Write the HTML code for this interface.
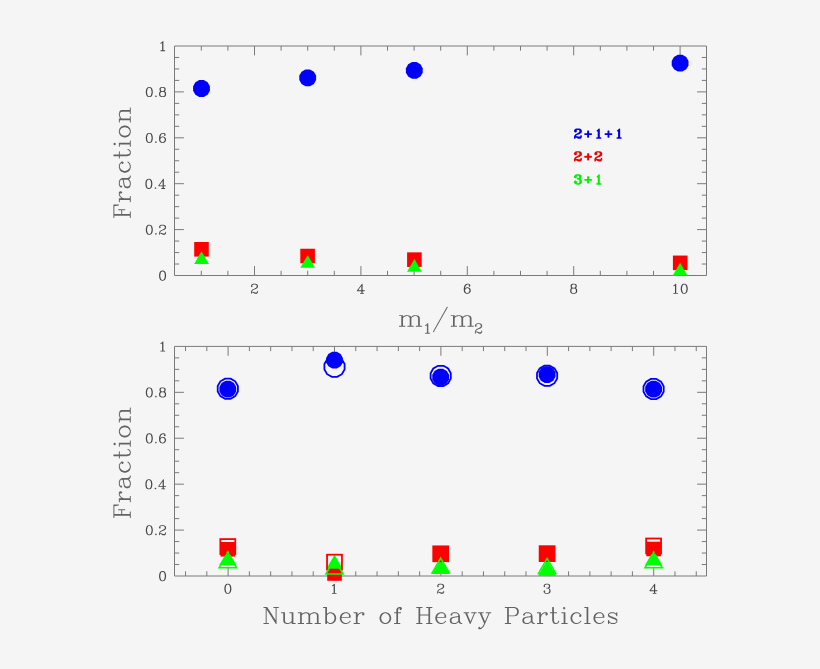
<!DOCTYPE html>
<html><head><meta charset="utf-8"><title>Fraction plots</title>
<style>
html,body{margin:0;padding:0;background:#f5f5f5;font-family:"Liberation Sans",sans-serif;}
svg{display:block}
</style></head>
<body>
<svg width="820" height="669" viewBox="0 0 820 669">
<rect width="820" height="669" fill="#f5f5f5"/>
<defs><filter id="soft" x="0" y="0" width="100%" height="100%" filterUnits="userSpaceOnUse"><feGaussianBlur stdDeviation="0.38"/></filter></defs>
<g filter="url(#soft)"><rect width="820" height="669" fill="#f5f5f5"/>
<path d="M174.5,46.0H706.5V275.5H174.5ZM201.30,275.5v-4.7M201.30,46.0v4.7M227.90,275.5v-4.7M227.90,46.0v4.7M254.50,275.5v-9.4M254.50,46.0v9.4M281.10,275.5v-4.7M281.10,46.0v4.7M307.70,275.5v-4.7M307.70,46.0v4.7M334.30,275.5v-4.7M334.30,46.0v4.7M360.90,275.5v-9.4M360.90,46.0v9.4M387.50,275.5v-4.7M387.50,46.0v4.7M414.10,275.5v-4.7M414.10,46.0v4.7M440.70,275.5v-4.7M440.70,46.0v4.7M467.30,275.5v-9.4M467.30,46.0v9.4M493.90,275.5v-4.7M493.90,46.0v4.7M520.50,275.5v-4.7M520.50,46.0v4.7M547.10,275.5v-4.7M547.10,46.0v4.7M573.70,275.5v-9.4M573.70,46.0v9.4M600.30,275.5v-4.7M600.30,46.0v4.7M626.90,275.5v-4.7M626.90,46.0v4.7M653.50,275.5v-4.7M653.50,46.0v4.7M680.10,275.5v-9.4M680.10,46.0v9.4M174.5,264.02h4.7M706.5,264.02h-4.7M174.5,252.55h4.7M706.5,252.55h-4.7M174.5,241.07h4.7M706.5,241.07h-4.7M174.5,229.60h9.4M706.5,229.60h-9.4M174.5,218.12h4.7M706.5,218.12h-4.7M174.5,206.65h4.7M706.5,206.65h-4.7M174.5,195.18h4.7M706.5,195.18h-4.7M174.5,183.70h9.4M706.5,183.70h-9.4M174.5,172.22h4.7M706.5,172.22h-4.7M174.5,160.75h4.7M706.5,160.75h-4.7M174.5,149.27h4.7M706.5,149.27h-4.7M174.5,137.80h9.4M706.5,137.80h-9.4M174.5,126.32h4.7M706.5,126.32h-4.7M174.5,114.85h4.7M706.5,114.85h-4.7M174.5,103.38h4.7M706.5,103.38h-4.7M174.5,91.90h9.4M706.5,91.90h-9.4M174.5,80.42h4.7M706.5,80.42h-4.7M174.5,68.95h4.7M706.5,68.95h-4.7M174.5,57.47h4.7M706.5,57.47h-4.7" fill="none" stroke="#7a7a7a" stroke-width="1.0" stroke-linecap="butt" stroke-linejoin="miter"/>
<polygon points="203.75,80.10 207.65,82.35 209.90,86.25 209.90,90.75 207.65,94.65 203.75,96.90 199.25,96.90 195.35,94.65 193.10,90.75 193.10,86.25 195.35,82.35 199.25,80.10" fill="#0000ff"/>
<polygon points="309.95,69.40 313.85,71.65 316.10,75.55 316.10,80.05 313.85,83.95 309.95,86.20 305.45,86.20 301.55,83.95 299.30,80.05 299.30,75.55 301.55,71.65 305.45,69.40" fill="#0000ff"/>
<polygon points="416.55,62.00 420.45,64.25 422.70,68.15 422.70,72.65 420.45,76.55 416.55,78.80 412.05,78.80 408.15,76.55 405.90,72.65 405.90,68.15 408.15,64.25 412.05,62.00" fill="#0000ff"/>
<polygon points="682.35,54.80 686.25,57.05 688.50,60.95 688.50,65.45 686.25,69.35 682.35,71.60 677.85,71.60 673.95,69.35 671.70,65.45 671.70,60.95 673.95,57.05 677.85,54.80" fill="#0000ff"/>
<rect x="194.20" y="242.00" width="14.6" height="14.6" fill="#ff0000"/>
<rect x="300.30" y="248.75" width="14.6" height="14.6" fill="#ff0000"/>
<rect x="407.10" y="252.35" width="14.6" height="14.6" fill="#ff0000"/>
<rect x="672.90" y="255.55" width="14.6" height="14.6" fill="#ff0000"/>
<polygon points="201.50,251.15 208.85,263.90 194.15,263.90" fill="#00ff00"/>
<polygon points="307.70,255.05 315.05,267.80 300.35,267.80" fill="#00ff00"/>
<polygon points="414.40,258.95 421.75,271.70 407.05,271.70" fill="#00ff00"/>
<polygon points="680.10,262.75 687.45,275.50 672.75,275.50" fill="#00ff00"/>
<path d="M174.5,346.4H706.5V576.0H174.5ZM185.54,576.0v-4.7M185.54,346.4v4.7M206.82,576.0v-4.7M206.82,346.4v4.7M228.10,576.0v-9.4M228.10,346.4v9.4M249.38,576.0v-4.7M249.38,346.4v4.7M270.66,576.0v-4.7M270.66,346.4v4.7M291.94,576.0v-4.7M291.94,346.4v4.7M313.22,576.0v-4.7M313.22,346.4v4.7M334.50,576.0v-9.4M334.50,346.4v9.4M355.78,576.0v-4.7M355.78,346.4v4.7M377.06,576.0v-4.7M377.06,346.4v4.7M398.34,576.0v-4.7M398.34,346.4v4.7M419.62,576.0v-4.7M419.62,346.4v4.7M440.90,576.0v-9.4M440.90,346.4v9.4M462.18,576.0v-4.7M462.18,346.4v4.7M483.46,576.0v-4.7M483.46,346.4v4.7M504.74,576.0v-4.7M504.74,346.4v4.7M526.02,576.0v-4.7M526.02,346.4v4.7M547.30,576.0v-9.4M547.30,346.4v9.4M568.58,576.0v-4.7M568.58,346.4v4.7M589.86,576.0v-4.7M589.86,346.4v4.7M611.14,576.0v-4.7M611.14,346.4v4.7M632.42,576.0v-4.7M632.42,346.4v4.7M653.70,576.0v-9.4M653.70,346.4v9.4M674.98,576.0v-4.7M674.98,346.4v4.7M696.26,576.0v-4.7M696.26,346.4v4.7M174.5,564.52h4.7M706.5,564.52h-4.7M174.5,553.04h4.7M706.5,553.04h-4.7M174.5,541.56h4.7M706.5,541.56h-4.7M174.5,530.08h9.4M706.5,530.08h-9.4M174.5,518.60h4.7M706.5,518.60h-4.7M174.5,507.12h4.7M706.5,507.12h-4.7M174.5,495.64h4.7M706.5,495.64h-4.7M174.5,484.16h9.4M706.5,484.16h-9.4M174.5,472.68h4.7M706.5,472.68h-4.7M174.5,461.20h4.7M706.5,461.20h-4.7M174.5,449.72h4.7M706.5,449.72h-4.7M174.5,438.24h9.4M706.5,438.24h-9.4M174.5,426.76h4.7M706.5,426.76h-4.7M174.5,415.28h4.7M706.5,415.28h-4.7M174.5,403.80h4.7M706.5,403.80h-4.7M174.5,392.32h9.4M706.5,392.32h-9.4M174.5,380.84h4.7M706.5,380.84h-4.7M174.5,369.36h4.7M706.5,369.36h-4.7M174.5,357.88h4.7M706.5,357.88h-4.7" fill="none" stroke="#7a7a7a" stroke-width="1.0" stroke-linecap="butt" stroke-linejoin="miter"/>
<polygon points="230.05,380.80 233.95,383.05 236.20,386.95 236.20,391.45 233.95,395.35 230.05,397.60 225.55,397.60 221.65,395.35 219.40,391.45 219.40,386.95 221.65,383.05 225.55,380.80" fill="#0000ff"/>
<polygon points="336.75,351.80 340.65,354.05 342.90,357.95 342.90,362.45 340.65,366.35 336.75,368.60 332.25,368.60 328.35,366.35 326.10,362.45 326.10,357.95 328.35,354.05 332.25,351.80" fill="#0000ff"/>
<polygon points="442.95,368.70 446.85,370.95 449.10,374.85 449.10,379.35 446.85,383.25 442.95,385.50 438.45,385.50 434.55,383.25 432.30,379.35 432.30,374.85 434.55,370.95 438.45,368.70" fill="#0000ff"/>
<polygon points="549.35,366.20 553.25,368.45 555.50,372.35 555.50,376.85 553.25,380.75 549.35,383.00 544.85,383.00 540.95,380.75 538.70,376.85 538.70,372.35 540.95,368.45 544.85,366.20" fill="#0000ff"/>
<polygon points="655.85,380.70 659.75,382.95 662.00,386.85 662.00,391.35 659.75,395.25 655.85,397.50 651.35,397.50 647.45,395.25 645.20,391.35 645.20,386.85 647.45,382.95 651.35,380.70" fill="#0000ff"/>
<rect x="220.50" y="542.00" width="14.6" height="14.6" fill="#ff0000"/>
<rect x="327.20" y="566.20" width="14.6" height="14.6" fill="#ff0000"/>
<rect x="433.40" y="546.50" width="14.6" height="14.6" fill="#ff0000"/>
<rect x="539.80" y="546.40" width="14.6" height="14.6" fill="#ff0000"/>
<rect x="646.30" y="541.70" width="14.6" height="14.6" fill="#ff0000"/>
<polygon points="227.80,550.20 236.46,565.20 219.14,565.20" fill="#00ff00"/>
<polygon points="334.50,554.80 343.16,569.80 325.84,569.80" fill="#00ff00"/>
<polygon points="440.70,559.00 449.36,574.00 432.04,574.00" fill="#00ff00"/>
<polygon points="547.10,559.80 556.10,576.00 538.10,576.00" fill="#00ff00"/>
<polygon points="653.60,550.20 662.26,565.20 644.94,565.20" fill="#00ff00"/>
<polygon points="230.50,378.61 235.19,381.31 237.89,386.00 237.89,391.40 235.19,396.09 230.50,398.79 225.10,398.79 220.41,396.09 217.71,391.40 217.71,386.00 220.41,381.31 225.10,378.61" fill="none" stroke="#0000ff" stroke-width="1.8"/>
<polygon points="337.20,356.71 341.89,359.41 344.59,364.10 344.59,369.50 341.89,374.19 337.20,376.89 331.80,376.89 327.11,374.19 324.41,369.50 324.41,364.10 327.11,359.41 331.80,356.71" fill="none" stroke="#0000ff" stroke-width="1.8"/>
<polygon points="443.40,365.81 448.09,368.51 450.79,373.20 450.79,378.60 448.09,383.29 443.40,385.99 438.00,385.99 433.31,383.29 430.61,378.60 430.61,373.20 433.31,368.51 438.00,365.81" fill="none" stroke="#0000ff" stroke-width="1.8"/>
<polygon points="549.80,365.71 554.49,368.41 557.19,373.10 557.19,378.50 554.49,383.19 549.80,385.89 544.40,385.89 539.71,383.19 537.01,378.50 537.01,373.10 539.71,368.41 544.40,365.71" fill="none" stroke="#0000ff" stroke-width="1.8"/>
<polygon points="656.30,378.91 660.99,381.61 663.69,386.30 663.69,391.70 660.99,396.39 656.30,399.09 650.90,399.09 646.21,396.39 643.51,391.70 643.51,386.30 646.21,381.61 650.90,378.91" fill="none" stroke="#0000ff" stroke-width="1.8"/>
<rect x="220.35" y="539.10" width="14.9" height="14.9" fill="none" stroke="#ff0000" stroke-width="1.8"/>
<rect x="327.05" y="554.70" width="14.9" height="14.9" fill="none" stroke="#ff0000" stroke-width="1.8"/>
<rect x="433.25" y="546.35" width="14.9" height="14.9" fill="none" stroke="#ff0000" stroke-width="1.8"/>
<rect x="539.65" y="546.20" width="14.9" height="14.9" fill="none" stroke="#ff0000" stroke-width="1.8"/>
<rect x="646.15" y="538.50" width="14.9" height="14.9" fill="none" stroke="#ff0000" stroke-width="1.8"/>
<polygon points="227.80,552.70 236.46,567.70 219.14,567.70" fill="none" stroke="#00ff00" stroke-width="1.5" stroke-linejoin="miter"/>
<polygon points="334.50,559.10 343.16,574.10 325.84,574.10" fill="none" stroke="#00ff00" stroke-width="1.5" stroke-linejoin="miter"/>
<polygon points="440.70,558.00 449.36,573.00 432.04,573.00" fill="none" stroke="#00ff00" stroke-width="1.5" stroke-linejoin="miter"/>
<polygon points="547.10,558.45 555.76,573.45 538.44,573.45" fill="none" stroke="#00ff00" stroke-width="1.5" stroke-linejoin="miter"/>
<polygon points="653.60,552.85 662.26,567.85 644.94,567.85" fill="none" stroke="#00ff00" stroke-width="1.5" stroke-linejoin="miter"/>
<path transform="translate(166.10,275.65) translate(-7.96,4.64)" d="M3.98,-9.72 3.92,-9.67 3.76,-9.67 3.59,-9.56 3.48,-9.56 2.43,-9.17 2.27,-9.01 1.38,-7.68 1.33,-7.24 1.27,-7.18 1.27,-6.96 1.22,-6.91 1.22,-6.69 1.16,-6.63 1.16,-6.41 1.10,-6.35 1.10,-6.13 1.05,-6.08 1.05,-5.86 0.99,-5.80 0.99,-5.58 0.94,-5.53 0.94,-3.76 0.99,-3.70 0.99,-3.48 1.05,-3.43 1.05,-3.20 1.10,-3.15 1.10,-2.93 1.16,-2.87 1.16,-2.65 1.22,-2.60 1.22,-2.38 1.27,-2.32 1.27,-2.10 1.33,-2.04 1.38,-1.60 2.27,-0.28 2.43,-0.11 2.65,0.00 2.76,0.00 3.81,0.39 5.03,0.39 5.08,0.33 6.35,-0.06 6.57,-0.28 7.46,-1.60 7.51,-2.04 7.57,-2.10 7.57,-2.32 7.62,-2.38 7.62,-2.60 7.68,-2.65 7.68,-2.87 7.74,-2.93 7.74,-3.15 7.79,-3.20 7.79,-3.43 7.85,-3.48 7.85,-3.70 7.90,-3.76 7.90,-5.53 7.85,-5.58 7.85,-5.80 7.79,-5.86 7.79,-6.08 7.74,-6.13 7.74,-6.35 7.68,-6.41 7.68,-6.63 7.62,-6.69 7.62,-6.91 7.57,-6.96 7.57,-7.18 7.51,-7.24 7.46,-7.68 6.57,-9.01 6.35,-9.23 6.24,-9.23 5.03,-9.67 4.03,-9.67ZM4.09,-8.90 4.75,-8.90 5.53,-8.51 5.86,-8.18 6.30,-7.24 6.30,-7.02 6.35,-6.96 6.35,-6.74 6.41,-6.69 6.41,-6.46 6.46,-6.41 6.46,-6.19 6.52,-6.13 6.52,-5.91 6.57,-5.86 6.57,-5.64 6.63,-5.58 6.63,-5.30 6.69,-5.25 6.69,-4.03 6.63,-3.98 6.63,-3.70 6.57,-3.65 6.57,-3.43 6.52,-3.37 6.52,-3.15 6.46,-3.09 6.46,-2.87 6.41,-2.82 6.41,-2.60 6.35,-2.54 6.35,-2.32 6.30,-2.27 6.24,-1.88 5.86,-1.10 5.53,-0.77 4.75,-0.39 4.09,-0.39 3.31,-0.77 2.98,-1.10 2.54,-2.04 2.54,-2.27 2.49,-2.32 2.49,-2.54 2.43,-2.60 2.43,-2.82 2.38,-2.87 2.38,-3.09 2.32,-3.15 2.32,-3.37 2.27,-3.43 2.27,-3.65 2.21,-3.70 2.21,-3.98 2.15,-4.03 2.15,-5.25 2.21,-5.30 2.21,-5.58 2.27,-5.64 2.27,-5.86 2.32,-5.91 2.32,-6.13 2.38,-6.19 2.38,-6.41 2.43,-6.46 2.43,-6.69 2.49,-6.74 2.49,-6.96 2.54,-7.02 2.60,-7.40 2.98,-8.18 3.31,-8.51Z" fill="#444444" fill-rule="evenodd"/>
<path transform="translate(166.10,229.75) translate(-21.22,4.64)" d="M10.88,-1.27 10.22,-0.61 10.22,-0.28 10.83,0.33 10.94,0.39 11.16,0.39 11.27,0.33 11.88,-0.28 11.88,-0.61 11.22,-1.27ZM15.47,-9.28 15.25,-9.17 14.64,-8.56 14.20,-7.68 14.20,-6.91 14.81,-6.30 14.92,-6.24 15.14,-6.24 15.25,-6.30 15.86,-6.91 15.86,-7.24 15.25,-7.85 15.25,-7.96 15.36,-8.18 15.69,-8.51 15.80,-8.51 16.85,-8.90 18.45,-8.90 19.23,-8.51 19.56,-8.18 19.95,-7.40 19.95,-6.74 19.61,-6.08 19.45,-5.91 18.45,-5.25 15.75,-3.92 14.64,-2.82 14.64,-2.71 14.20,-1.49 14.20,0.17 14.48,0.39 14.70,0.39 14.81,0.33 14.97,0.17 14.97,-0.72 15.19,-0.94 15.80,-0.94 18.01,0.39 20.00,0.39 20.11,0.33 20.72,-0.28 21.16,-1.16 21.16,-2.38 20.88,-2.60 20.66,-2.60 20.39,-2.38 20.39,-1.49 20.11,-1.22 19.34,-0.83 18.23,-0.83 18.18,-0.88 17.90,-0.94 17.74,-1.05 17.62,-1.05 17.46,-1.16 17.35,-1.16 17.18,-1.27 17.07,-1.27 16.91,-1.38 16.80,-1.38 16.63,-1.49 16.52,-1.49 16.35,-1.60 16.24,-1.60 16.08,-1.71 15.19,-1.71 15.14,-1.77 15.19,-1.82 15.36,-2.43 16.13,-3.20 16.91,-3.59 17.02,-3.59 17.13,-3.70 17.24,-3.70 17.40,-3.81 17.51,-3.81 17.68,-3.92 17.79,-3.92 17.96,-4.03 18.07,-4.03 18.23,-4.14 18.34,-4.14 18.51,-4.25 18.62,-4.25 18.79,-4.36 19.17,-4.48 20.50,-5.36 20.72,-5.58 21.16,-6.46 21.16,-7.68 20.72,-8.56 20.06,-9.23 19.95,-9.23 18.73,-9.67 16.63,-9.67 16.57,-9.61ZM3.98,-9.72 3.92,-9.67 3.76,-9.67 3.59,-9.56 3.48,-9.56 2.43,-9.17 2.27,-9.01 1.38,-7.68 1.33,-7.24 1.27,-7.18 1.27,-6.96 1.22,-6.91 1.22,-6.69 1.16,-6.63 1.16,-6.41 1.10,-6.35 1.10,-6.13 1.05,-6.08 1.05,-5.86 0.99,-5.80 0.99,-5.58 0.94,-5.53 0.94,-3.76 0.99,-3.70 0.99,-3.48 1.05,-3.43 1.05,-3.20 1.10,-3.15 1.10,-2.93 1.16,-2.87 1.16,-2.65 1.22,-2.60 1.22,-2.38 1.27,-2.32 1.27,-2.10 1.33,-2.04 1.38,-1.60 2.27,-0.28 2.43,-0.11 2.65,0.00 2.76,0.00 3.81,0.39 5.03,0.39 5.08,0.33 6.35,-0.06 6.57,-0.28 7.46,-1.60 7.51,-2.04 7.57,-2.10 7.57,-2.32 7.62,-2.38 7.62,-2.60 7.68,-2.65 7.68,-2.87 7.74,-2.93 7.74,-3.15 7.79,-3.20 7.79,-3.43 7.85,-3.48 7.85,-3.70 7.90,-3.76 7.90,-5.53 7.85,-5.58 7.85,-5.80 7.79,-5.86 7.79,-6.08 7.74,-6.13 7.74,-6.35 7.68,-6.41 7.68,-6.63 7.62,-6.69 7.62,-6.91 7.57,-6.96 7.57,-7.18 7.51,-7.24 7.46,-7.68 6.57,-9.01 6.35,-9.23 6.24,-9.23 5.03,-9.67 4.03,-9.67ZM4.09,-8.90 4.75,-8.90 5.53,-8.51 5.86,-8.18 6.30,-7.24 6.30,-7.02 6.35,-6.96 6.35,-6.74 6.41,-6.69 6.41,-6.46 6.46,-6.41 6.46,-6.19 6.52,-6.13 6.52,-5.91 6.57,-5.86 6.57,-5.64 6.63,-5.58 6.63,-5.30 6.69,-5.25 6.69,-4.03 6.63,-3.98 6.63,-3.70 6.57,-3.65 6.57,-3.43 6.52,-3.37 6.52,-3.15 6.46,-3.09 6.46,-2.87 6.41,-2.82 6.41,-2.60 6.35,-2.54 6.35,-2.32 6.30,-2.27 6.24,-1.88 5.86,-1.10 5.53,-0.77 4.75,-0.39 4.09,-0.39 3.31,-0.77 2.98,-1.10 2.54,-2.04 2.54,-2.27 2.49,-2.32 2.49,-2.54 2.43,-2.60 2.43,-2.82 2.38,-2.87 2.38,-3.09 2.32,-3.15 2.32,-3.37 2.27,-3.43 2.27,-3.65 2.21,-3.70 2.21,-3.98 2.15,-4.03 2.15,-5.25 2.21,-5.30 2.21,-5.58 2.27,-5.64 2.27,-5.86 2.32,-5.91 2.32,-6.13 2.38,-6.19 2.38,-6.41 2.43,-6.46 2.43,-6.69 2.49,-6.74 2.49,-6.96 2.54,-7.02 2.60,-7.40 2.98,-8.18 3.31,-8.51Z" fill="#444444" fill-rule="evenodd"/>
<path transform="translate(166.10,183.85) translate(-21.66,4.64)" d="M10.88,-1.27 10.22,-0.61 10.22,-0.28 10.83,0.33 10.94,0.39 11.16,0.39 11.27,0.33 11.88,-0.28 11.88,-0.61 11.22,-1.27ZM19.17,-9.67 18.84,-9.67 18.62,-9.45 13.76,-2.82 13.76,-2.49 14.03,-2.27 18.12,-2.27 18.18,-2.21 18.18,-0.44 18.12,-0.39 17.13,-0.39 17.02,-0.33 16.85,-0.17 16.85,0.17 17.13,0.39 20.44,0.39 20.55,0.33 20.72,0.17 20.72,-0.17 20.55,-0.33 20.44,-0.39 19.45,-0.39 19.39,-0.44 19.39,-2.21 19.45,-2.27 21.33,-2.27 21.60,-2.49 21.60,-2.82 21.33,-3.04 19.45,-3.04 19.39,-3.09 19.39,-9.45ZM18.12,-7.40 18.18,-7.35 18.18,-3.09 18.12,-3.04 15.03,-3.04 14.97,-3.09 15.14,-3.37 15.64,-3.98 15.75,-4.20 16.24,-4.81 16.35,-5.03 16.85,-5.64 16.96,-5.86ZM3.98,-9.72 3.92,-9.67 3.76,-9.67 3.59,-9.56 3.48,-9.56 2.43,-9.17 2.27,-9.01 1.38,-7.68 1.33,-7.24 1.27,-7.18 1.27,-6.96 1.22,-6.91 1.22,-6.69 1.16,-6.63 1.16,-6.41 1.10,-6.35 1.10,-6.13 1.05,-6.08 1.05,-5.86 0.99,-5.80 0.99,-5.58 0.94,-5.53 0.94,-3.76 0.99,-3.70 0.99,-3.48 1.05,-3.43 1.05,-3.20 1.10,-3.15 1.10,-2.93 1.16,-2.87 1.16,-2.65 1.22,-2.60 1.22,-2.38 1.27,-2.32 1.27,-2.10 1.33,-2.04 1.38,-1.60 2.27,-0.28 2.43,-0.11 2.65,0.00 2.76,0.00 3.81,0.39 5.03,0.39 5.08,0.33 6.35,-0.06 6.57,-0.28 7.46,-1.60 7.51,-2.04 7.57,-2.10 7.57,-2.32 7.62,-2.38 7.62,-2.60 7.68,-2.65 7.68,-2.87 7.74,-2.93 7.74,-3.15 7.79,-3.20 7.79,-3.43 7.85,-3.48 7.85,-3.70 7.90,-3.76 7.90,-5.53 7.85,-5.58 7.85,-5.80 7.79,-5.86 7.79,-6.08 7.74,-6.13 7.74,-6.35 7.68,-6.41 7.68,-6.63 7.62,-6.69 7.62,-6.91 7.57,-6.96 7.57,-7.18 7.51,-7.24 7.46,-7.68 6.57,-9.01 6.35,-9.23 6.24,-9.23 5.03,-9.67 4.03,-9.67ZM4.09,-8.90 4.75,-8.90 5.53,-8.51 5.86,-8.18 6.30,-7.24 6.30,-7.02 6.35,-6.96 6.35,-6.74 6.41,-6.69 6.41,-6.46 6.46,-6.41 6.46,-6.19 6.52,-6.13 6.52,-5.91 6.57,-5.86 6.57,-5.64 6.63,-5.58 6.63,-5.30 6.69,-5.25 6.69,-4.03 6.63,-3.98 6.63,-3.70 6.57,-3.65 6.57,-3.43 6.52,-3.37 6.52,-3.15 6.46,-3.09 6.46,-2.87 6.41,-2.82 6.41,-2.60 6.35,-2.54 6.35,-2.32 6.30,-2.27 6.24,-1.88 5.86,-1.10 5.53,-0.77 4.75,-0.39 4.09,-0.39 3.31,-0.77 2.98,-1.10 2.54,-2.04 2.54,-2.27 2.49,-2.32 2.49,-2.54 2.43,-2.60 2.43,-2.82 2.38,-2.87 2.38,-3.09 2.32,-3.15 2.32,-3.37 2.27,-3.43 2.27,-3.65 2.21,-3.70 2.21,-3.98 2.15,-4.03 2.15,-5.25 2.21,-5.30 2.21,-5.58 2.27,-5.64 2.27,-5.86 2.32,-5.91 2.32,-6.13 2.38,-6.19 2.38,-6.41 2.43,-6.46 2.43,-6.69 2.49,-6.74 2.49,-6.96 2.54,-7.02 2.60,-7.40 2.98,-8.18 3.31,-8.51Z" fill="#444444" fill-rule="evenodd"/>
<path transform="translate(166.10,137.95) translate(-21.22,4.64)" d="M10.88,-1.27 10.22,-0.61 10.22,-0.28 10.83,0.33 10.94,0.39 11.16,0.39 11.27,0.33 11.88,-0.28 11.88,-0.61 11.22,-1.27ZM19.17,-9.67 17.51,-9.67 17.46,-9.61 17.35,-9.61 16.13,-9.17 15.08,-8.12 14.64,-7.24 14.59,-6.85 14.53,-6.80 14.53,-6.63 14.48,-6.57 14.48,-6.41 14.42,-6.35 14.42,-6.19 14.37,-6.13 14.37,-5.97 14.31,-5.91 14.31,-5.75 14.20,-5.47 14.20,-2.49 14.25,-2.43 14.64,-1.16 15.69,-0.11 15.91,0.00 17.02,0.33 17.07,0.39 18.29,0.39 18.34,0.33 19.61,-0.06 20.72,-1.16 20.72,-1.27 21.16,-2.49 21.16,-3.26 21.11,-3.31 20.72,-4.59 19.61,-5.69 19.50,-5.69 18.29,-6.13 17.51,-6.13 17.46,-6.08 17.35,-6.08 16.13,-5.64 15.47,-4.97 15.41,-5.03 15.47,-5.53 15.53,-5.58 15.53,-5.75 15.58,-5.80 15.75,-6.63 15.80,-6.69 15.86,-6.96 16.24,-7.74 17.02,-8.51 17.79,-8.90 18.90,-8.90 19.61,-8.51 19.67,-8.29 19.06,-7.68 19.06,-7.35 19.67,-6.74 19.78,-6.69 20.00,-6.69 20.11,-6.74 20.72,-7.35 20.72,-8.12 20.28,-9.01 20.06,-9.23ZM17.74,-5.36 18.01,-5.36 18.79,-4.97 19.56,-4.20 19.56,-4.09 19.95,-3.04 19.95,-2.71 19.89,-2.65 19.56,-1.55 18.79,-0.77 18.01,-0.39 17.35,-0.39 16.57,-0.77 15.80,-1.55 15.80,-1.66 15.41,-2.71 15.41,-3.04 15.47,-3.09 15.80,-4.20 16.57,-4.97 16.69,-4.97ZM3.98,-9.72 3.92,-9.67 3.76,-9.67 3.59,-9.56 3.48,-9.56 2.43,-9.17 2.27,-9.01 1.38,-7.68 1.33,-7.24 1.27,-7.18 1.27,-6.96 1.22,-6.91 1.22,-6.69 1.16,-6.63 1.16,-6.41 1.10,-6.35 1.10,-6.13 1.05,-6.08 1.05,-5.86 0.99,-5.80 0.99,-5.58 0.94,-5.53 0.94,-3.76 0.99,-3.70 0.99,-3.48 1.05,-3.43 1.05,-3.20 1.10,-3.15 1.10,-2.93 1.16,-2.87 1.16,-2.65 1.22,-2.60 1.22,-2.38 1.27,-2.32 1.27,-2.10 1.33,-2.04 1.38,-1.60 2.27,-0.28 2.43,-0.11 2.65,0.00 2.76,0.00 3.81,0.39 5.03,0.39 5.08,0.33 6.35,-0.06 6.57,-0.28 7.46,-1.60 7.51,-2.04 7.57,-2.10 7.57,-2.32 7.62,-2.38 7.62,-2.60 7.68,-2.65 7.68,-2.87 7.74,-2.93 7.74,-3.15 7.79,-3.20 7.79,-3.43 7.85,-3.48 7.85,-3.70 7.90,-3.76 7.90,-5.53 7.85,-5.58 7.85,-5.80 7.79,-5.86 7.79,-6.08 7.74,-6.13 7.74,-6.35 7.68,-6.41 7.68,-6.63 7.62,-6.69 7.62,-6.91 7.57,-6.96 7.57,-7.18 7.51,-7.24 7.46,-7.68 6.57,-9.01 6.35,-9.23 6.24,-9.23 5.03,-9.67 4.03,-9.67ZM4.09,-8.90 4.75,-8.90 5.53,-8.51 5.86,-8.18 6.30,-7.24 6.30,-7.02 6.35,-6.96 6.35,-6.74 6.41,-6.69 6.41,-6.46 6.46,-6.41 6.46,-6.19 6.52,-6.13 6.52,-5.91 6.57,-5.86 6.57,-5.64 6.63,-5.58 6.63,-5.30 6.69,-5.25 6.69,-4.03 6.63,-3.98 6.63,-3.70 6.57,-3.65 6.57,-3.43 6.52,-3.37 6.52,-3.15 6.46,-3.09 6.46,-2.87 6.41,-2.82 6.41,-2.60 6.35,-2.54 6.35,-2.32 6.30,-2.27 6.24,-1.88 5.86,-1.10 5.53,-0.77 4.75,-0.39 4.09,-0.39 3.31,-0.77 2.98,-1.10 2.54,-2.04 2.54,-2.27 2.49,-2.32 2.49,-2.54 2.43,-2.60 2.43,-2.82 2.38,-2.87 2.38,-3.09 2.32,-3.15 2.32,-3.37 2.27,-3.43 2.27,-3.65 2.21,-3.70 2.21,-3.98 2.15,-4.03 2.15,-5.25 2.21,-5.30 2.21,-5.58 2.27,-5.64 2.27,-5.86 2.32,-5.91 2.32,-6.13 2.38,-6.19 2.38,-6.41 2.43,-6.46 2.43,-6.69 2.49,-6.74 2.49,-6.96 2.54,-7.02 2.60,-7.40 2.98,-8.18 3.31,-8.51Z" fill="#444444" fill-rule="evenodd"/>
<path transform="translate(166.10,92.05) translate(-21.22,4.64)" d="M10.88,-1.27 10.22,-0.61 10.22,-0.28 10.83,0.33 10.94,0.39 11.16,0.39 11.27,0.33 11.88,-0.28 11.88,-0.61 11.22,-1.27ZM16.80,-9.72 16.74,-9.67 16.57,-9.67 16.41,-9.56 16.30,-9.56 15.25,-9.17 15.08,-9.01 14.64,-8.12 14.64,-6.46 15.08,-5.58 15.41,-5.30 14.64,-4.59 14.20,-3.70 14.20,-1.60 14.64,-0.72 15.25,-0.11 15.47,0.00 15.58,0.00 16.63,0.39 18.73,0.39 18.79,0.33 20.06,-0.06 20.72,-0.72 21.16,-1.60 21.16,-3.70 20.72,-4.59 20.06,-5.25 19.95,-5.30 20.28,-5.58 20.72,-6.46 20.72,-8.12 20.28,-9.01 20.06,-9.23 19.95,-9.23 18.73,-9.67 16.85,-9.67ZM16.91,-4.92 18.45,-4.92 19.23,-4.53 19.56,-4.20 19.95,-3.43 19.95,-1.88 19.56,-1.10 19.23,-0.77 18.45,-0.39 16.91,-0.39 16.13,-0.77 15.80,-1.10 15.41,-1.88 15.41,-3.43 15.80,-4.20 16.13,-4.53ZM16.19,-8.51 16.91,-8.90 18.45,-8.90 19.12,-8.56 19.50,-7.85 19.50,-6.74 19.17,-6.08 18.45,-5.69 16.91,-5.69 16.24,-6.02 15.86,-6.74 15.86,-7.85ZM3.98,-9.72 3.92,-9.67 3.76,-9.67 3.59,-9.56 3.48,-9.56 2.43,-9.17 2.27,-9.01 1.38,-7.68 1.33,-7.24 1.27,-7.18 1.27,-6.96 1.22,-6.91 1.22,-6.69 1.16,-6.63 1.16,-6.41 1.10,-6.35 1.10,-6.13 1.05,-6.08 1.05,-5.86 0.99,-5.80 0.99,-5.58 0.94,-5.53 0.94,-3.76 0.99,-3.70 0.99,-3.48 1.05,-3.43 1.05,-3.20 1.10,-3.15 1.10,-2.93 1.16,-2.87 1.16,-2.65 1.22,-2.60 1.22,-2.38 1.27,-2.32 1.27,-2.10 1.33,-2.04 1.38,-1.60 2.27,-0.28 2.43,-0.11 2.65,0.00 2.76,0.00 3.81,0.39 5.03,0.39 5.08,0.33 6.35,-0.06 6.57,-0.28 7.46,-1.60 7.51,-2.04 7.57,-2.10 7.57,-2.32 7.62,-2.38 7.62,-2.60 7.68,-2.65 7.68,-2.87 7.74,-2.93 7.74,-3.15 7.79,-3.20 7.79,-3.43 7.85,-3.48 7.85,-3.70 7.90,-3.76 7.90,-5.53 7.85,-5.58 7.85,-5.80 7.79,-5.86 7.79,-6.08 7.74,-6.13 7.74,-6.35 7.68,-6.41 7.68,-6.63 7.62,-6.69 7.62,-6.91 7.57,-6.96 7.57,-7.18 7.51,-7.24 7.46,-7.68 6.57,-9.01 6.35,-9.23 6.24,-9.23 5.03,-9.67 4.03,-9.67ZM4.09,-8.90 4.75,-8.90 5.53,-8.51 5.86,-8.18 6.30,-7.24 6.30,-7.02 6.35,-6.96 6.35,-6.74 6.41,-6.69 6.41,-6.46 6.46,-6.41 6.46,-6.19 6.52,-6.13 6.52,-5.91 6.57,-5.86 6.57,-5.64 6.63,-5.58 6.63,-5.30 6.69,-5.25 6.69,-4.03 6.63,-3.98 6.63,-3.70 6.57,-3.65 6.57,-3.43 6.52,-3.37 6.52,-3.15 6.46,-3.09 6.46,-2.87 6.41,-2.82 6.41,-2.60 6.35,-2.54 6.35,-2.32 6.30,-2.27 6.24,-1.88 5.86,-1.10 5.53,-0.77 4.75,-0.39 4.09,-0.39 3.31,-0.77 2.98,-1.10 2.54,-2.04 2.54,-2.27 2.49,-2.32 2.49,-2.54 2.43,-2.60 2.43,-2.82 2.38,-2.87 2.38,-3.09 2.32,-3.15 2.32,-3.37 2.27,-3.43 2.27,-3.65 2.21,-3.70 2.21,-3.98 2.15,-4.03 2.15,-5.25 2.21,-5.30 2.21,-5.58 2.27,-5.64 2.27,-5.86 2.32,-5.91 2.32,-6.13 2.38,-6.19 2.38,-6.41 2.43,-6.46 2.43,-6.69 2.49,-6.74 2.49,-6.96 2.54,-7.02 2.60,-7.40 2.98,-8.18 3.31,-8.51Z" fill="#444444" fill-rule="evenodd"/>
<path transform="translate(165.20,46.15) translate(-7.07,4.61)" d="M4.97,-9.67 4.75,-9.67 4.64,-9.61 3.31,-8.29 2.49,-7.90 2.27,-7.68 2.27,-7.35 2.54,-7.13 2.82,-7.13 3.70,-7.57 3.98,-7.85 4.03,-7.79 4.03,-0.44 3.98,-0.39 2.54,-0.39 2.43,-0.33 2.27,-0.17 2.27,0.17 2.54,0.39 6.74,0.39 7.02,0.17 7.02,-0.17 6.74,-0.39 5.30,-0.39 5.25,-0.44 5.25,-9.45Z" fill="#444444" fill-rule="evenodd"/>
<path transform="translate(166.10,576.15) translate(-7.96,4.64)" d="M3.98,-9.72 3.92,-9.67 3.76,-9.67 3.59,-9.56 3.48,-9.56 2.43,-9.17 2.27,-9.01 1.38,-7.68 1.33,-7.24 1.27,-7.18 1.27,-6.96 1.22,-6.91 1.22,-6.69 1.16,-6.63 1.16,-6.41 1.10,-6.35 1.10,-6.13 1.05,-6.08 1.05,-5.86 0.99,-5.80 0.99,-5.58 0.94,-5.53 0.94,-3.76 0.99,-3.70 0.99,-3.48 1.05,-3.43 1.05,-3.20 1.10,-3.15 1.10,-2.93 1.16,-2.87 1.16,-2.65 1.22,-2.60 1.22,-2.38 1.27,-2.32 1.27,-2.10 1.33,-2.04 1.38,-1.60 2.27,-0.28 2.43,-0.11 2.65,0.00 2.76,0.00 3.81,0.39 5.03,0.39 5.08,0.33 6.35,-0.06 6.57,-0.28 7.46,-1.60 7.51,-2.04 7.57,-2.10 7.57,-2.32 7.62,-2.38 7.62,-2.60 7.68,-2.65 7.68,-2.87 7.74,-2.93 7.74,-3.15 7.79,-3.20 7.79,-3.43 7.85,-3.48 7.85,-3.70 7.90,-3.76 7.90,-5.53 7.85,-5.58 7.85,-5.80 7.79,-5.86 7.79,-6.08 7.74,-6.13 7.74,-6.35 7.68,-6.41 7.68,-6.63 7.62,-6.69 7.62,-6.91 7.57,-6.96 7.57,-7.18 7.51,-7.24 7.46,-7.68 6.57,-9.01 6.35,-9.23 6.24,-9.23 5.03,-9.67 4.03,-9.67ZM4.09,-8.90 4.75,-8.90 5.53,-8.51 5.86,-8.18 6.30,-7.24 6.30,-7.02 6.35,-6.96 6.35,-6.74 6.41,-6.69 6.41,-6.46 6.46,-6.41 6.46,-6.19 6.52,-6.13 6.52,-5.91 6.57,-5.86 6.57,-5.64 6.63,-5.58 6.63,-5.30 6.69,-5.25 6.69,-4.03 6.63,-3.98 6.63,-3.70 6.57,-3.65 6.57,-3.43 6.52,-3.37 6.52,-3.15 6.46,-3.09 6.46,-2.87 6.41,-2.82 6.41,-2.60 6.35,-2.54 6.35,-2.32 6.30,-2.27 6.24,-1.88 5.86,-1.10 5.53,-0.77 4.75,-0.39 4.09,-0.39 3.31,-0.77 2.98,-1.10 2.54,-2.04 2.54,-2.27 2.49,-2.32 2.49,-2.54 2.43,-2.60 2.43,-2.82 2.38,-2.87 2.38,-3.09 2.32,-3.15 2.32,-3.37 2.27,-3.43 2.27,-3.65 2.21,-3.70 2.21,-3.98 2.15,-4.03 2.15,-5.25 2.21,-5.30 2.21,-5.58 2.27,-5.64 2.27,-5.86 2.32,-5.91 2.32,-6.13 2.38,-6.19 2.38,-6.41 2.43,-6.46 2.43,-6.69 2.49,-6.74 2.49,-6.96 2.54,-7.02 2.60,-7.40 2.98,-8.18 3.31,-8.51Z" fill="#444444" fill-rule="evenodd"/>
<path transform="translate(166.10,530.23) translate(-21.22,4.64)" d="M10.88,-1.27 10.22,-0.61 10.22,-0.28 10.83,0.33 10.94,0.39 11.16,0.39 11.27,0.33 11.88,-0.28 11.88,-0.61 11.22,-1.27ZM15.47,-9.28 15.25,-9.17 14.64,-8.56 14.20,-7.68 14.20,-6.91 14.81,-6.30 14.92,-6.24 15.14,-6.24 15.25,-6.30 15.86,-6.91 15.86,-7.24 15.25,-7.85 15.25,-7.96 15.36,-8.18 15.69,-8.51 15.80,-8.51 16.85,-8.90 18.45,-8.90 19.23,-8.51 19.56,-8.18 19.95,-7.40 19.95,-6.74 19.61,-6.08 19.45,-5.91 18.45,-5.25 15.75,-3.92 14.64,-2.82 14.64,-2.71 14.20,-1.49 14.20,0.17 14.48,0.39 14.70,0.39 14.81,0.33 14.97,0.17 14.97,-0.72 15.19,-0.94 15.80,-0.94 18.01,0.39 20.00,0.39 20.11,0.33 20.72,-0.28 21.16,-1.16 21.16,-2.38 20.88,-2.60 20.66,-2.60 20.39,-2.38 20.39,-1.49 20.11,-1.22 19.34,-0.83 18.23,-0.83 18.18,-0.88 17.90,-0.94 17.74,-1.05 17.62,-1.05 17.46,-1.16 17.35,-1.16 17.18,-1.27 17.07,-1.27 16.91,-1.38 16.80,-1.38 16.63,-1.49 16.52,-1.49 16.35,-1.60 16.24,-1.60 16.08,-1.71 15.19,-1.71 15.14,-1.77 15.19,-1.82 15.36,-2.43 16.13,-3.20 16.91,-3.59 17.02,-3.59 17.13,-3.70 17.24,-3.70 17.40,-3.81 17.51,-3.81 17.68,-3.92 17.79,-3.92 17.96,-4.03 18.07,-4.03 18.23,-4.14 18.34,-4.14 18.51,-4.25 18.62,-4.25 18.79,-4.36 19.17,-4.48 20.50,-5.36 20.72,-5.58 21.16,-6.46 21.16,-7.68 20.72,-8.56 20.06,-9.23 19.95,-9.23 18.73,-9.67 16.63,-9.67 16.57,-9.61ZM3.98,-9.72 3.92,-9.67 3.76,-9.67 3.59,-9.56 3.48,-9.56 2.43,-9.17 2.27,-9.01 1.38,-7.68 1.33,-7.24 1.27,-7.18 1.27,-6.96 1.22,-6.91 1.22,-6.69 1.16,-6.63 1.16,-6.41 1.10,-6.35 1.10,-6.13 1.05,-6.08 1.05,-5.86 0.99,-5.80 0.99,-5.58 0.94,-5.53 0.94,-3.76 0.99,-3.70 0.99,-3.48 1.05,-3.43 1.05,-3.20 1.10,-3.15 1.10,-2.93 1.16,-2.87 1.16,-2.65 1.22,-2.60 1.22,-2.38 1.27,-2.32 1.27,-2.10 1.33,-2.04 1.38,-1.60 2.27,-0.28 2.43,-0.11 2.65,0.00 2.76,0.00 3.81,0.39 5.03,0.39 5.08,0.33 6.35,-0.06 6.57,-0.28 7.46,-1.60 7.51,-2.04 7.57,-2.10 7.57,-2.32 7.62,-2.38 7.62,-2.60 7.68,-2.65 7.68,-2.87 7.74,-2.93 7.74,-3.15 7.79,-3.20 7.79,-3.43 7.85,-3.48 7.85,-3.70 7.90,-3.76 7.90,-5.53 7.85,-5.58 7.85,-5.80 7.79,-5.86 7.79,-6.08 7.74,-6.13 7.74,-6.35 7.68,-6.41 7.68,-6.63 7.62,-6.69 7.62,-6.91 7.57,-6.96 7.57,-7.18 7.51,-7.24 7.46,-7.68 6.57,-9.01 6.35,-9.23 6.24,-9.23 5.03,-9.67 4.03,-9.67ZM4.09,-8.90 4.75,-8.90 5.53,-8.51 5.86,-8.18 6.30,-7.24 6.30,-7.02 6.35,-6.96 6.35,-6.74 6.41,-6.69 6.41,-6.46 6.46,-6.41 6.46,-6.19 6.52,-6.13 6.52,-5.91 6.57,-5.86 6.57,-5.64 6.63,-5.58 6.63,-5.30 6.69,-5.25 6.69,-4.03 6.63,-3.98 6.63,-3.70 6.57,-3.65 6.57,-3.43 6.52,-3.37 6.52,-3.15 6.46,-3.09 6.46,-2.87 6.41,-2.82 6.41,-2.60 6.35,-2.54 6.35,-2.32 6.30,-2.27 6.24,-1.88 5.86,-1.10 5.53,-0.77 4.75,-0.39 4.09,-0.39 3.31,-0.77 2.98,-1.10 2.54,-2.04 2.54,-2.27 2.49,-2.32 2.49,-2.54 2.43,-2.60 2.43,-2.82 2.38,-2.87 2.38,-3.09 2.32,-3.15 2.32,-3.37 2.27,-3.43 2.27,-3.65 2.21,-3.70 2.21,-3.98 2.15,-4.03 2.15,-5.25 2.21,-5.30 2.21,-5.58 2.27,-5.64 2.27,-5.86 2.32,-5.91 2.32,-6.13 2.38,-6.19 2.38,-6.41 2.43,-6.46 2.43,-6.69 2.49,-6.74 2.49,-6.96 2.54,-7.02 2.60,-7.40 2.98,-8.18 3.31,-8.51Z" fill="#444444" fill-rule="evenodd"/>
<path transform="translate(166.10,484.31) translate(-21.66,4.64)" d="M10.88,-1.27 10.22,-0.61 10.22,-0.28 10.83,0.33 10.94,0.39 11.16,0.39 11.27,0.33 11.88,-0.28 11.88,-0.61 11.22,-1.27ZM19.17,-9.67 18.84,-9.67 18.62,-9.45 13.76,-2.82 13.76,-2.49 14.03,-2.27 18.12,-2.27 18.18,-2.21 18.18,-0.44 18.12,-0.39 17.13,-0.39 17.02,-0.33 16.85,-0.17 16.85,0.17 17.13,0.39 20.44,0.39 20.55,0.33 20.72,0.17 20.72,-0.17 20.55,-0.33 20.44,-0.39 19.45,-0.39 19.39,-0.44 19.39,-2.21 19.45,-2.27 21.33,-2.27 21.60,-2.49 21.60,-2.82 21.33,-3.04 19.45,-3.04 19.39,-3.09 19.39,-9.45ZM18.12,-7.40 18.18,-7.35 18.18,-3.09 18.12,-3.04 15.03,-3.04 14.97,-3.09 15.14,-3.37 15.64,-3.98 15.75,-4.20 16.24,-4.81 16.35,-5.03 16.85,-5.64 16.96,-5.86ZM3.98,-9.72 3.92,-9.67 3.76,-9.67 3.59,-9.56 3.48,-9.56 2.43,-9.17 2.27,-9.01 1.38,-7.68 1.33,-7.24 1.27,-7.18 1.27,-6.96 1.22,-6.91 1.22,-6.69 1.16,-6.63 1.16,-6.41 1.10,-6.35 1.10,-6.13 1.05,-6.08 1.05,-5.86 0.99,-5.80 0.99,-5.58 0.94,-5.53 0.94,-3.76 0.99,-3.70 0.99,-3.48 1.05,-3.43 1.05,-3.20 1.10,-3.15 1.10,-2.93 1.16,-2.87 1.16,-2.65 1.22,-2.60 1.22,-2.38 1.27,-2.32 1.27,-2.10 1.33,-2.04 1.38,-1.60 2.27,-0.28 2.43,-0.11 2.65,0.00 2.76,0.00 3.81,0.39 5.03,0.39 5.08,0.33 6.35,-0.06 6.57,-0.28 7.46,-1.60 7.51,-2.04 7.57,-2.10 7.57,-2.32 7.62,-2.38 7.62,-2.60 7.68,-2.65 7.68,-2.87 7.74,-2.93 7.74,-3.15 7.79,-3.20 7.79,-3.43 7.85,-3.48 7.85,-3.70 7.90,-3.76 7.90,-5.53 7.85,-5.58 7.85,-5.80 7.79,-5.86 7.79,-6.08 7.74,-6.13 7.74,-6.35 7.68,-6.41 7.68,-6.63 7.62,-6.69 7.62,-6.91 7.57,-6.96 7.57,-7.18 7.51,-7.24 7.46,-7.68 6.57,-9.01 6.35,-9.23 6.24,-9.23 5.03,-9.67 4.03,-9.67ZM4.09,-8.90 4.75,-8.90 5.53,-8.51 5.86,-8.18 6.30,-7.24 6.30,-7.02 6.35,-6.96 6.35,-6.74 6.41,-6.69 6.41,-6.46 6.46,-6.41 6.46,-6.19 6.52,-6.13 6.52,-5.91 6.57,-5.86 6.57,-5.64 6.63,-5.58 6.63,-5.30 6.69,-5.25 6.69,-4.03 6.63,-3.98 6.63,-3.70 6.57,-3.65 6.57,-3.43 6.52,-3.37 6.52,-3.15 6.46,-3.09 6.46,-2.87 6.41,-2.82 6.41,-2.60 6.35,-2.54 6.35,-2.32 6.30,-2.27 6.24,-1.88 5.86,-1.10 5.53,-0.77 4.75,-0.39 4.09,-0.39 3.31,-0.77 2.98,-1.10 2.54,-2.04 2.54,-2.27 2.49,-2.32 2.49,-2.54 2.43,-2.60 2.43,-2.82 2.38,-2.87 2.38,-3.09 2.32,-3.15 2.32,-3.37 2.27,-3.43 2.27,-3.65 2.21,-3.70 2.21,-3.98 2.15,-4.03 2.15,-5.25 2.21,-5.30 2.21,-5.58 2.27,-5.64 2.27,-5.86 2.32,-5.91 2.32,-6.13 2.38,-6.19 2.38,-6.41 2.43,-6.46 2.43,-6.69 2.49,-6.74 2.49,-6.96 2.54,-7.02 2.60,-7.40 2.98,-8.18 3.31,-8.51Z" fill="#444444" fill-rule="evenodd"/>
<path transform="translate(166.10,438.39) translate(-21.22,4.64)" d="M10.88,-1.27 10.22,-0.61 10.22,-0.28 10.83,0.33 10.94,0.39 11.16,0.39 11.27,0.33 11.88,-0.28 11.88,-0.61 11.22,-1.27ZM19.17,-9.67 17.51,-9.67 17.46,-9.61 17.35,-9.61 16.13,-9.17 15.08,-8.12 14.64,-7.24 14.59,-6.85 14.53,-6.80 14.53,-6.63 14.48,-6.57 14.48,-6.41 14.42,-6.35 14.42,-6.19 14.37,-6.13 14.37,-5.97 14.31,-5.91 14.31,-5.75 14.20,-5.47 14.20,-2.49 14.25,-2.43 14.64,-1.16 15.69,-0.11 15.91,0.00 17.02,0.33 17.07,0.39 18.29,0.39 18.34,0.33 19.61,-0.06 20.72,-1.16 20.72,-1.27 21.16,-2.49 21.16,-3.26 21.11,-3.31 20.72,-4.59 19.61,-5.69 19.50,-5.69 18.29,-6.13 17.51,-6.13 17.46,-6.08 17.35,-6.08 16.13,-5.64 15.47,-4.97 15.41,-5.03 15.47,-5.53 15.53,-5.58 15.53,-5.75 15.58,-5.80 15.75,-6.63 15.80,-6.69 15.86,-6.96 16.24,-7.74 17.02,-8.51 17.79,-8.90 18.90,-8.90 19.61,-8.51 19.67,-8.29 19.06,-7.68 19.06,-7.35 19.67,-6.74 19.78,-6.69 20.00,-6.69 20.11,-6.74 20.72,-7.35 20.72,-8.12 20.28,-9.01 20.06,-9.23ZM17.74,-5.36 18.01,-5.36 18.79,-4.97 19.56,-4.20 19.56,-4.09 19.95,-3.04 19.95,-2.71 19.89,-2.65 19.56,-1.55 18.79,-0.77 18.01,-0.39 17.35,-0.39 16.57,-0.77 15.80,-1.55 15.80,-1.66 15.41,-2.71 15.41,-3.04 15.47,-3.09 15.80,-4.20 16.57,-4.97 16.69,-4.97ZM3.98,-9.72 3.92,-9.67 3.76,-9.67 3.59,-9.56 3.48,-9.56 2.43,-9.17 2.27,-9.01 1.38,-7.68 1.33,-7.24 1.27,-7.18 1.27,-6.96 1.22,-6.91 1.22,-6.69 1.16,-6.63 1.16,-6.41 1.10,-6.35 1.10,-6.13 1.05,-6.08 1.05,-5.86 0.99,-5.80 0.99,-5.58 0.94,-5.53 0.94,-3.76 0.99,-3.70 0.99,-3.48 1.05,-3.43 1.05,-3.20 1.10,-3.15 1.10,-2.93 1.16,-2.87 1.16,-2.65 1.22,-2.60 1.22,-2.38 1.27,-2.32 1.27,-2.10 1.33,-2.04 1.38,-1.60 2.27,-0.28 2.43,-0.11 2.65,0.00 2.76,0.00 3.81,0.39 5.03,0.39 5.08,0.33 6.35,-0.06 6.57,-0.28 7.46,-1.60 7.51,-2.04 7.57,-2.10 7.57,-2.32 7.62,-2.38 7.62,-2.60 7.68,-2.65 7.68,-2.87 7.74,-2.93 7.74,-3.15 7.79,-3.20 7.79,-3.43 7.85,-3.48 7.85,-3.70 7.90,-3.76 7.90,-5.53 7.85,-5.58 7.85,-5.80 7.79,-5.86 7.79,-6.08 7.74,-6.13 7.74,-6.35 7.68,-6.41 7.68,-6.63 7.62,-6.69 7.62,-6.91 7.57,-6.96 7.57,-7.18 7.51,-7.24 7.46,-7.68 6.57,-9.01 6.35,-9.23 6.24,-9.23 5.03,-9.67 4.03,-9.67ZM4.09,-8.90 4.75,-8.90 5.53,-8.51 5.86,-8.18 6.30,-7.24 6.30,-7.02 6.35,-6.96 6.35,-6.74 6.41,-6.69 6.41,-6.46 6.46,-6.41 6.46,-6.19 6.52,-6.13 6.52,-5.91 6.57,-5.86 6.57,-5.64 6.63,-5.58 6.63,-5.30 6.69,-5.25 6.69,-4.03 6.63,-3.98 6.63,-3.70 6.57,-3.65 6.57,-3.43 6.52,-3.37 6.52,-3.15 6.46,-3.09 6.46,-2.87 6.41,-2.82 6.41,-2.60 6.35,-2.54 6.35,-2.32 6.30,-2.27 6.24,-1.88 5.86,-1.10 5.53,-0.77 4.75,-0.39 4.09,-0.39 3.31,-0.77 2.98,-1.10 2.54,-2.04 2.54,-2.27 2.49,-2.32 2.49,-2.54 2.43,-2.60 2.43,-2.82 2.38,-2.87 2.38,-3.09 2.32,-3.15 2.32,-3.37 2.27,-3.43 2.27,-3.65 2.21,-3.70 2.21,-3.98 2.15,-4.03 2.15,-5.25 2.21,-5.30 2.21,-5.58 2.27,-5.64 2.27,-5.86 2.32,-5.91 2.32,-6.13 2.38,-6.19 2.38,-6.41 2.43,-6.46 2.43,-6.69 2.49,-6.74 2.49,-6.96 2.54,-7.02 2.60,-7.40 2.98,-8.18 3.31,-8.51Z" fill="#444444" fill-rule="evenodd"/>
<path transform="translate(166.10,392.47) translate(-21.22,4.64)" d="M10.88,-1.27 10.22,-0.61 10.22,-0.28 10.83,0.33 10.94,0.39 11.16,0.39 11.27,0.33 11.88,-0.28 11.88,-0.61 11.22,-1.27ZM16.80,-9.72 16.74,-9.67 16.57,-9.67 16.41,-9.56 16.30,-9.56 15.25,-9.17 15.08,-9.01 14.64,-8.12 14.64,-6.46 15.08,-5.58 15.41,-5.30 14.64,-4.59 14.20,-3.70 14.20,-1.60 14.64,-0.72 15.25,-0.11 15.47,0.00 15.58,0.00 16.63,0.39 18.73,0.39 18.79,0.33 20.06,-0.06 20.72,-0.72 21.16,-1.60 21.16,-3.70 20.72,-4.59 20.06,-5.25 19.95,-5.30 20.28,-5.58 20.72,-6.46 20.72,-8.12 20.28,-9.01 20.06,-9.23 19.95,-9.23 18.73,-9.67 16.85,-9.67ZM16.91,-4.92 18.45,-4.92 19.23,-4.53 19.56,-4.20 19.95,-3.43 19.95,-1.88 19.56,-1.10 19.23,-0.77 18.45,-0.39 16.91,-0.39 16.13,-0.77 15.80,-1.10 15.41,-1.88 15.41,-3.43 15.80,-4.20 16.13,-4.53ZM16.19,-8.51 16.91,-8.90 18.45,-8.90 19.12,-8.56 19.50,-7.85 19.50,-6.74 19.17,-6.08 18.45,-5.69 16.91,-5.69 16.24,-6.02 15.86,-6.74 15.86,-7.85ZM3.98,-9.72 3.92,-9.67 3.76,-9.67 3.59,-9.56 3.48,-9.56 2.43,-9.17 2.27,-9.01 1.38,-7.68 1.33,-7.24 1.27,-7.18 1.27,-6.96 1.22,-6.91 1.22,-6.69 1.16,-6.63 1.16,-6.41 1.10,-6.35 1.10,-6.13 1.05,-6.08 1.05,-5.86 0.99,-5.80 0.99,-5.58 0.94,-5.53 0.94,-3.76 0.99,-3.70 0.99,-3.48 1.05,-3.43 1.05,-3.20 1.10,-3.15 1.10,-2.93 1.16,-2.87 1.16,-2.65 1.22,-2.60 1.22,-2.38 1.27,-2.32 1.27,-2.10 1.33,-2.04 1.38,-1.60 2.27,-0.28 2.43,-0.11 2.65,0.00 2.76,0.00 3.81,0.39 5.03,0.39 5.08,0.33 6.35,-0.06 6.57,-0.28 7.46,-1.60 7.51,-2.04 7.57,-2.10 7.57,-2.32 7.62,-2.38 7.62,-2.60 7.68,-2.65 7.68,-2.87 7.74,-2.93 7.74,-3.15 7.79,-3.20 7.79,-3.43 7.85,-3.48 7.85,-3.70 7.90,-3.76 7.90,-5.53 7.85,-5.58 7.85,-5.80 7.79,-5.86 7.79,-6.08 7.74,-6.13 7.74,-6.35 7.68,-6.41 7.68,-6.63 7.62,-6.69 7.62,-6.91 7.57,-6.96 7.57,-7.18 7.51,-7.24 7.46,-7.68 6.57,-9.01 6.35,-9.23 6.24,-9.23 5.03,-9.67 4.03,-9.67ZM4.09,-8.90 4.75,-8.90 5.53,-8.51 5.86,-8.18 6.30,-7.24 6.30,-7.02 6.35,-6.96 6.35,-6.74 6.41,-6.69 6.41,-6.46 6.46,-6.41 6.46,-6.19 6.52,-6.13 6.52,-5.91 6.57,-5.86 6.57,-5.64 6.63,-5.58 6.63,-5.30 6.69,-5.25 6.69,-4.03 6.63,-3.98 6.63,-3.70 6.57,-3.65 6.57,-3.43 6.52,-3.37 6.52,-3.15 6.46,-3.09 6.46,-2.87 6.41,-2.82 6.41,-2.60 6.35,-2.54 6.35,-2.32 6.30,-2.27 6.24,-1.88 5.86,-1.10 5.53,-0.77 4.75,-0.39 4.09,-0.39 3.31,-0.77 2.98,-1.10 2.54,-2.04 2.54,-2.27 2.49,-2.32 2.49,-2.54 2.43,-2.60 2.43,-2.82 2.38,-2.87 2.38,-3.09 2.32,-3.15 2.32,-3.37 2.27,-3.43 2.27,-3.65 2.21,-3.70 2.21,-3.98 2.15,-4.03 2.15,-5.25 2.21,-5.30 2.21,-5.58 2.27,-5.64 2.27,-5.86 2.32,-5.91 2.32,-6.13 2.38,-6.19 2.38,-6.41 2.43,-6.46 2.43,-6.69 2.49,-6.74 2.49,-6.96 2.54,-7.02 2.60,-7.40 2.98,-8.18 3.31,-8.51Z" fill="#444444" fill-rule="evenodd"/>
<path transform="translate(165.20,346.55) translate(-7.07,4.61)" d="M4.97,-9.67 4.75,-9.67 4.64,-9.61 3.31,-8.29 2.49,-7.90 2.27,-7.68 2.27,-7.35 2.54,-7.13 2.82,-7.13 3.70,-7.57 3.98,-7.85 4.03,-7.79 4.03,-0.44 3.98,-0.39 2.54,-0.39 2.43,-0.33 2.27,-0.17 2.27,0.17 2.54,0.39 6.74,0.39 7.02,0.17 7.02,-0.17 6.74,-0.39 5.30,-0.39 5.25,-0.44 5.25,-9.45Z" fill="#444444" fill-rule="evenodd"/>
<path transform="translate(254.50,293.40) translate(-4.45,0.00)" d="M2.21,-9.28 1.99,-9.17 1.38,-8.56 0.94,-7.68 0.94,-6.91 1.55,-6.30 1.66,-6.24 1.88,-6.24 1.99,-6.30 2.60,-6.91 2.60,-7.24 1.99,-7.85 1.99,-7.96 2.10,-8.18 2.43,-8.51 2.54,-8.51 3.59,-8.90 5.19,-8.90 5.97,-8.51 6.30,-8.18 6.69,-7.40 6.69,-6.74 6.35,-6.08 6.19,-5.91 5.19,-5.25 2.49,-3.92 1.38,-2.82 1.38,-2.71 0.94,-1.49 0.94,0.17 1.22,0.39 1.44,0.39 1.55,0.33 1.71,0.17 1.71,-0.72 1.93,-0.94 2.54,-0.94 4.75,0.39 6.74,0.39 6.85,0.33 7.46,-0.28 7.90,-1.16 7.90,-2.38 7.62,-2.60 7.40,-2.60 7.13,-2.38 7.13,-1.49 6.85,-1.22 6.08,-0.83 4.97,-0.83 4.92,-0.88 4.64,-0.94 4.48,-1.05 4.36,-1.05 4.20,-1.16 4.09,-1.16 3.92,-1.27 3.81,-1.27 3.65,-1.38 3.54,-1.38 3.37,-1.49 3.26,-1.49 3.09,-1.60 2.98,-1.60 2.82,-1.71 1.93,-1.71 1.88,-1.77 1.93,-1.82 2.10,-2.43 2.87,-3.20 3.65,-3.59 3.76,-3.59 3.87,-3.70 3.98,-3.70 4.14,-3.81 4.25,-3.81 4.42,-3.92 4.53,-3.92 4.70,-4.03 4.81,-4.03 4.97,-4.14 5.08,-4.14 5.25,-4.25 5.36,-4.25 5.53,-4.36 5.91,-4.48 7.24,-5.36 7.46,-5.58 7.90,-6.46 7.90,-7.68 7.46,-8.56 6.80,-9.23 6.69,-9.23 5.47,-9.67 3.37,-9.67 3.31,-9.61Z" fill="#444444" fill-rule="evenodd"/>
<path transform="translate(360.90,293.40) translate(-4.45,0.00)" d="M5.91,-9.67 5.58,-9.67 5.36,-9.45 0.50,-2.82 0.50,-2.49 0.77,-2.27 4.86,-2.27 4.92,-2.21 4.92,-0.44 4.86,-0.39 3.87,-0.39 3.76,-0.33 3.59,-0.17 3.59,0.17 3.87,0.39 7.18,0.39 7.29,0.33 7.46,0.17 7.46,-0.17 7.29,-0.33 7.18,-0.39 6.19,-0.39 6.13,-0.44 6.13,-2.21 6.19,-2.27 8.07,-2.27 8.34,-2.49 8.34,-2.82 8.07,-3.04 6.19,-3.04 6.13,-3.09 6.13,-9.45ZM4.86,-7.40 4.92,-7.35 4.92,-3.09 4.86,-3.04 1.77,-3.04 1.71,-3.09 1.88,-3.37 2.38,-3.98 2.49,-4.20 2.98,-4.81 3.09,-5.03 3.59,-5.64 3.70,-5.86Z" fill="#444444" fill-rule="evenodd"/>
<path transform="translate(467.30,293.40) translate(-4.45,0.00)" d="M5.91,-9.67 4.25,-9.67 4.20,-9.61 4.09,-9.61 2.87,-9.17 1.82,-8.12 1.38,-7.24 1.33,-6.85 1.27,-6.80 1.27,-6.63 1.22,-6.57 1.22,-6.41 1.16,-6.35 1.16,-6.19 1.10,-6.13 1.10,-5.97 1.05,-5.91 1.05,-5.75 0.94,-5.47 0.94,-2.49 0.99,-2.43 1.38,-1.16 2.43,-0.11 2.65,0.00 3.76,0.33 3.81,0.39 5.03,0.39 5.08,0.33 6.35,-0.06 7.46,-1.16 7.46,-1.27 7.90,-2.49 7.90,-3.26 7.85,-3.31 7.46,-4.59 6.35,-5.69 6.24,-5.69 5.03,-6.13 4.25,-6.13 4.20,-6.08 4.09,-6.08 2.87,-5.64 2.21,-4.97 2.15,-5.03 2.21,-5.53 2.27,-5.58 2.27,-5.75 2.32,-5.80 2.49,-6.63 2.54,-6.69 2.60,-6.96 2.98,-7.74 3.76,-8.51 4.53,-8.90 5.64,-8.90 6.35,-8.51 6.41,-8.29 5.80,-7.68 5.80,-7.35 6.41,-6.74 6.52,-6.69 6.74,-6.69 6.85,-6.74 7.46,-7.35 7.46,-8.12 7.02,-9.01 6.80,-9.23ZM4.48,-5.36 4.75,-5.36 5.53,-4.97 6.30,-4.20 6.30,-4.09 6.69,-3.04 6.69,-2.71 6.63,-2.65 6.30,-1.55 5.53,-0.77 4.75,-0.39 4.09,-0.39 3.31,-0.77 2.54,-1.55 2.54,-1.66 2.15,-2.71 2.15,-3.04 2.21,-3.09 2.54,-4.20 3.31,-4.97 3.43,-4.97Z" fill="#444444" fill-rule="evenodd"/>
<path transform="translate(573.70,293.40) translate(-4.45,0.00)" d="M3.54,-9.72 3.48,-9.67 3.31,-9.67 3.15,-9.56 3.04,-9.56 1.99,-9.17 1.82,-9.01 1.38,-8.12 1.38,-6.46 1.82,-5.58 2.15,-5.30 1.38,-4.59 0.94,-3.70 0.94,-1.60 1.38,-0.72 1.99,-0.11 2.21,0.00 2.32,0.00 3.37,0.39 5.47,0.39 5.53,0.33 6.80,-0.06 7.46,-0.72 7.90,-1.60 7.90,-3.70 7.46,-4.59 6.80,-5.25 6.69,-5.30 7.02,-5.58 7.46,-6.46 7.46,-8.12 7.02,-9.01 6.80,-9.23 6.69,-9.23 5.47,-9.67 3.59,-9.67ZM3.65,-4.92 5.19,-4.92 5.97,-4.53 6.30,-4.20 6.69,-3.43 6.69,-1.88 6.30,-1.10 5.97,-0.77 5.19,-0.39 3.65,-0.39 2.87,-0.77 2.54,-1.10 2.15,-1.88 2.15,-3.43 2.54,-4.20 2.87,-4.53ZM2.93,-8.51 3.65,-8.90 5.19,-8.90 5.86,-8.56 6.24,-7.85 6.24,-6.74 5.91,-6.08 5.19,-5.69 3.65,-5.69 2.98,-6.02 2.60,-6.74 2.60,-7.85Z" fill="#444444" fill-rule="evenodd"/>
<path transform="translate(680.50,293.40) translate(-9.53,0.00)" d="M4.97,-9.67 4.75,-9.67 4.64,-9.61 3.31,-8.29 2.49,-7.90 2.27,-7.68 2.27,-7.35 2.54,-7.13 2.82,-7.13 3.70,-7.57 3.98,-7.85 4.03,-7.79 4.03,-0.44 3.98,-0.39 2.54,-0.39 2.43,-0.33 2.27,-0.17 2.27,0.17 2.54,0.39 6.74,0.39 7.02,0.17 7.02,-0.17 6.74,-0.39 5.30,-0.39 5.25,-0.44 5.25,-9.45ZM12.82,-9.72 12.76,-9.67 12.60,-9.67 12.43,-9.56 12.32,-9.56 11.27,-9.17 11.11,-9.01 10.22,-7.68 10.17,-7.24 10.11,-7.18 10.11,-6.96 10.06,-6.91 10.06,-6.69 10.00,-6.63 10.00,-6.41 9.95,-6.35 9.95,-6.13 9.89,-6.08 9.89,-5.86 9.83,-5.80 9.83,-5.58 9.78,-5.53 9.78,-3.76 9.83,-3.70 9.83,-3.48 9.89,-3.43 9.89,-3.20 9.95,-3.15 9.95,-2.93 10.00,-2.87 10.00,-2.65 10.06,-2.60 10.06,-2.38 10.11,-2.32 10.11,-2.10 10.17,-2.04 10.22,-1.60 11.11,-0.28 11.27,-0.11 11.49,0.00 11.60,0.00 12.65,0.39 13.87,0.39 13.92,0.33 15.19,-0.06 15.41,-0.28 16.30,-1.60 16.35,-2.04 16.41,-2.10 16.41,-2.32 16.46,-2.38 16.46,-2.60 16.52,-2.65 16.52,-2.87 16.57,-2.93 16.57,-3.15 16.63,-3.20 16.63,-3.43 16.69,-3.48 16.69,-3.70 16.74,-3.76 16.74,-5.53 16.69,-5.58 16.69,-5.80 16.63,-5.86 16.63,-6.08 16.57,-6.13 16.57,-6.35 16.52,-6.41 16.52,-6.63 16.46,-6.69 16.46,-6.91 16.41,-6.96 16.41,-7.18 16.35,-7.24 16.30,-7.68 15.41,-9.01 15.19,-9.23 15.08,-9.23 13.87,-9.67 12.87,-9.67ZM12.93,-8.90 13.59,-8.90 14.37,-8.51 14.70,-8.18 15.14,-7.24 15.14,-7.02 15.19,-6.96 15.19,-6.74 15.25,-6.69 15.25,-6.46 15.30,-6.41 15.30,-6.19 15.36,-6.13 15.36,-5.91 15.41,-5.86 15.41,-5.64 15.47,-5.58 15.47,-5.30 15.53,-5.25 15.53,-4.03 15.47,-3.98 15.47,-3.70 15.41,-3.65 15.41,-3.43 15.36,-3.37 15.36,-3.15 15.30,-3.09 15.30,-2.87 15.25,-2.82 15.25,-2.60 15.19,-2.54 15.19,-2.32 15.14,-2.27 15.08,-1.88 14.70,-1.10 14.37,-0.77 13.59,-0.39 12.93,-0.39 12.15,-0.77 11.82,-1.10 11.38,-2.04 11.38,-2.27 11.33,-2.32 11.33,-2.54 11.27,-2.60 11.27,-2.82 11.22,-2.87 11.22,-3.09 11.16,-3.15 11.16,-3.37 11.11,-3.43 11.11,-3.65 11.05,-3.70 11.05,-3.98 10.99,-4.03 10.99,-5.25 11.05,-5.30 11.05,-5.58 11.11,-5.64 11.11,-5.86 11.16,-5.91 11.16,-6.13 11.22,-6.19 11.22,-6.41 11.27,-6.46 11.27,-6.69 11.33,-6.74 11.33,-6.96 11.38,-7.02 11.44,-7.40 11.82,-8.18 12.15,-8.51Z" fill="#444444" fill-rule="evenodd"/>
<path transform="translate(227.90,593.40) translate(-4.45,0.00)" d="M3.98,-9.72 3.92,-9.67 3.76,-9.67 3.59,-9.56 3.48,-9.56 2.43,-9.17 2.27,-9.01 1.38,-7.68 1.33,-7.24 1.27,-7.18 1.27,-6.96 1.22,-6.91 1.22,-6.69 1.16,-6.63 1.16,-6.41 1.10,-6.35 1.10,-6.13 1.05,-6.08 1.05,-5.86 0.99,-5.80 0.99,-5.58 0.94,-5.53 0.94,-3.76 0.99,-3.70 0.99,-3.48 1.05,-3.43 1.05,-3.20 1.10,-3.15 1.10,-2.93 1.16,-2.87 1.16,-2.65 1.22,-2.60 1.22,-2.38 1.27,-2.32 1.27,-2.10 1.33,-2.04 1.38,-1.60 2.27,-0.28 2.43,-0.11 2.65,0.00 2.76,0.00 3.81,0.39 5.03,0.39 5.08,0.33 6.35,-0.06 6.57,-0.28 7.46,-1.60 7.51,-2.04 7.57,-2.10 7.57,-2.32 7.62,-2.38 7.62,-2.60 7.68,-2.65 7.68,-2.87 7.74,-2.93 7.74,-3.15 7.79,-3.20 7.79,-3.43 7.85,-3.48 7.85,-3.70 7.90,-3.76 7.90,-5.53 7.85,-5.58 7.85,-5.80 7.79,-5.86 7.79,-6.08 7.74,-6.13 7.74,-6.35 7.68,-6.41 7.68,-6.63 7.62,-6.69 7.62,-6.91 7.57,-6.96 7.57,-7.18 7.51,-7.24 7.46,-7.68 6.57,-9.01 6.35,-9.23 6.24,-9.23 5.03,-9.67 4.03,-9.67ZM4.09,-8.90 4.75,-8.90 5.53,-8.51 5.86,-8.18 6.30,-7.24 6.30,-7.02 6.35,-6.96 6.35,-6.74 6.41,-6.69 6.41,-6.46 6.46,-6.41 6.46,-6.19 6.52,-6.13 6.52,-5.91 6.57,-5.86 6.57,-5.64 6.63,-5.58 6.63,-5.30 6.69,-5.25 6.69,-4.03 6.63,-3.98 6.63,-3.70 6.57,-3.65 6.57,-3.43 6.52,-3.37 6.52,-3.15 6.46,-3.09 6.46,-2.87 6.41,-2.82 6.41,-2.60 6.35,-2.54 6.35,-2.32 6.30,-2.27 6.24,-1.88 5.86,-1.10 5.53,-0.77 4.75,-0.39 4.09,-0.39 3.31,-0.77 2.98,-1.10 2.54,-2.04 2.54,-2.27 2.49,-2.32 2.49,-2.54 2.43,-2.60 2.43,-2.82 2.38,-2.87 2.38,-3.09 2.32,-3.15 2.32,-3.37 2.27,-3.43 2.27,-3.65 2.21,-3.70 2.21,-3.98 2.15,-4.03 2.15,-5.25 2.21,-5.30 2.21,-5.58 2.27,-5.64 2.27,-5.86 2.32,-5.91 2.32,-6.13 2.38,-6.19 2.38,-6.41 2.43,-6.46 2.43,-6.69 2.49,-6.74 2.49,-6.96 2.54,-7.02 2.60,-7.40 2.98,-8.18 3.31,-8.51Z" fill="#444444" fill-rule="evenodd"/>
<path transform="translate(334.30,593.40) translate(-4.67,0.00)" d="M4.97,-9.67 4.75,-9.67 4.64,-9.61 3.31,-8.29 2.49,-7.90 2.27,-7.68 2.27,-7.35 2.54,-7.13 2.82,-7.13 3.70,-7.57 3.98,-7.85 4.03,-7.79 4.03,-0.44 3.98,-0.39 2.54,-0.39 2.43,-0.33 2.27,-0.17 2.27,0.17 2.54,0.39 6.74,0.39 7.02,0.17 7.02,-0.17 6.74,-0.39 5.30,-0.39 5.25,-0.44 5.25,-9.45Z" fill="#444444" fill-rule="evenodd"/>
<path transform="translate(440.70,593.40) translate(-4.45,0.00)" d="M2.21,-9.28 1.99,-9.17 1.38,-8.56 0.94,-7.68 0.94,-6.91 1.55,-6.30 1.66,-6.24 1.88,-6.24 1.99,-6.30 2.60,-6.91 2.60,-7.24 1.99,-7.85 1.99,-7.96 2.10,-8.18 2.43,-8.51 2.54,-8.51 3.59,-8.90 5.19,-8.90 5.97,-8.51 6.30,-8.18 6.69,-7.40 6.69,-6.74 6.35,-6.08 6.19,-5.91 5.19,-5.25 2.49,-3.92 1.38,-2.82 1.38,-2.71 0.94,-1.49 0.94,0.17 1.22,0.39 1.44,0.39 1.55,0.33 1.71,0.17 1.71,-0.72 1.93,-0.94 2.54,-0.94 4.75,0.39 6.74,0.39 6.85,0.33 7.46,-0.28 7.90,-1.16 7.90,-2.38 7.62,-2.60 7.40,-2.60 7.13,-2.38 7.13,-1.49 6.85,-1.22 6.08,-0.83 4.97,-0.83 4.92,-0.88 4.64,-0.94 4.48,-1.05 4.36,-1.05 4.20,-1.16 4.09,-1.16 3.92,-1.27 3.81,-1.27 3.65,-1.38 3.54,-1.38 3.37,-1.49 3.26,-1.49 3.09,-1.60 2.98,-1.60 2.82,-1.71 1.93,-1.71 1.88,-1.77 1.93,-1.82 2.10,-2.43 2.87,-3.20 3.65,-3.59 3.76,-3.59 3.87,-3.70 3.98,-3.70 4.14,-3.81 4.25,-3.81 4.42,-3.92 4.53,-3.92 4.70,-4.03 4.81,-4.03 4.97,-4.14 5.08,-4.14 5.25,-4.25 5.36,-4.25 5.53,-4.36 5.91,-4.48 7.24,-5.36 7.46,-5.58 7.90,-6.46 7.90,-7.68 7.46,-8.56 6.80,-9.23 6.69,-9.23 5.47,-9.67 3.37,-9.67 3.31,-9.61Z" fill="#444444" fill-rule="evenodd"/>
<path transform="translate(547.10,593.40) translate(-4.45,0.00)" d="M3.37,-9.67 3.31,-9.61 3.20,-9.61 1.99,-9.17 1.38,-8.56 0.94,-7.68 0.94,-6.91 1.55,-6.30 1.66,-6.24 1.88,-6.24 1.99,-6.30 2.60,-6.91 2.60,-7.24 1.99,-7.85 1.99,-7.96 2.10,-8.18 2.43,-8.51 2.54,-8.51 3.59,-8.90 5.19,-8.90 5.86,-8.56 6.24,-7.85 6.24,-6.74 5.91,-6.08 5.19,-5.69 3.87,-5.69 3.59,-5.47 3.59,-5.14 3.87,-4.92 5.19,-4.92 5.97,-4.53 6.30,-4.20 6.30,-4.09 6.69,-3.04 6.69,-1.88 6.30,-1.10 5.97,-0.77 5.19,-0.39 3.59,-0.39 3.54,-0.44 2.43,-0.77 2.10,-1.10 1.99,-1.33 1.99,-1.44 2.60,-2.04 2.60,-2.38 1.99,-2.98 1.88,-3.04 1.66,-3.04 1.55,-2.98 0.94,-2.38 0.94,-1.60 1.38,-0.72 1.99,-0.11 2.21,0.00 2.32,0.00 3.37,0.39 5.47,0.39 5.53,0.33 6.80,-0.06 7.46,-0.72 7.90,-1.60 7.90,-3.26 7.46,-4.14 6.41,-5.19 6.52,-5.30 6.80,-5.36 7.02,-5.58 7.46,-6.46 7.46,-8.12 7.02,-9.01 6.80,-9.23 6.69,-9.23 5.47,-9.67Z" fill="#444444" fill-rule="evenodd"/>
<path transform="translate(653.50,593.40) translate(-4.45,0.00)" d="M5.91,-9.67 5.58,-9.67 5.36,-9.45 0.50,-2.82 0.50,-2.49 0.77,-2.27 4.86,-2.27 4.92,-2.21 4.92,-0.44 4.86,-0.39 3.87,-0.39 3.76,-0.33 3.59,-0.17 3.59,0.17 3.87,0.39 7.18,0.39 7.29,0.33 7.46,0.17 7.46,-0.17 7.29,-0.33 7.18,-0.39 6.19,-0.39 6.13,-0.44 6.13,-2.21 6.19,-2.27 8.07,-2.27 8.34,-2.49 8.34,-2.82 8.07,-3.04 6.19,-3.04 6.13,-3.09 6.13,-9.45ZM4.86,-7.40 4.92,-7.35 4.92,-3.09 4.86,-3.04 1.77,-3.04 1.71,-3.09 1.88,-3.37 2.38,-3.98 2.49,-4.20 2.98,-4.81 3.09,-5.03 3.59,-5.64 3.70,-5.86Z" fill="#444444" fill-rule="evenodd"/>
<path transform="translate(263.40,623.50) translate(-1.05,0.00)" d="M348.10,-11.17 347.91,-10.98 346.47,-10.31 346.47,-10.22 345.81,-9.55 345.71,-9.55 345.61,-9.36 345.61,-7.45 345.71,-7.26 345.81,-7.26 346.47,-6.59 346.47,-6.49 347.91,-5.83 348.10,-5.63 348.57,-5.54 348.86,-5.35 349.05,-5.35 349.34,-5.16 349.53,-5.16 349.82,-4.97 350.01,-4.97 350.29,-4.78 350.49,-4.78 350.77,-4.58 351.44,-4.39 353.25,-3.53 353.54,-3.34 354.02,-2.77 354.02,-1.81 353.54,-1.24 352.11,-0.48 349.24,-0.48 347.81,-1.24 347.14,-2.01 346.57,-3.25 346.28,-3.53 345.90,-3.53 345.61,-3.25 345.61,0.19 345.90,0.48 346.28,0.48 346.57,0.19 346.86,-0.48 347.05,-0.67 347.24,-0.38 348.67,0.29 348.86,0.48 352.49,0.48 352.68,0.29 354.11,-0.38 354.11,-0.48 354.78,-1.15 354.88,-1.15 354.97,-1.34 354.97,-4.01 354.88,-4.20 354.78,-4.20 354.11,-4.87 354.11,-4.97 352.68,-5.63 352.49,-5.83 352.01,-5.92 351.73,-6.11 351.54,-6.11 351.25,-6.30 351.06,-6.30 350.77,-6.49 350.58,-6.49 350.29,-6.69 350.10,-6.69 349.82,-6.88 349.15,-7.07 347.33,-7.93 346.67,-8.50 346.57,-8.88 347.05,-9.45 348.57,-10.22 351.25,-10.22 352.78,-9.45 353.45,-8.69 354.02,-7.45 354.31,-7.16 354.69,-7.16 354.97,-7.45 354.97,-10.89 354.69,-11.17 354.31,-11.17 354.02,-10.89 353.73,-10.22 353.54,-10.03 353.35,-10.31 351.92,-10.98 351.73,-11.17ZM335.87,-11.17 335.30,-10.89 335.11,-10.89 334.15,-10.51 333.87,-10.51 333.49,-10.31 333.49,-10.22 332.05,-8.79 331.96,-8.79 331.77,-8.40 331.77,-8.12 331.67,-8.02 331.29,-6.69 331.10,-6.40 331.10,-4.30 331.29,-4.01 331.29,-3.82 331.77,-2.58 331.77,-2.29 331.96,-1.91 332.05,-1.91 333.49,-0.48 333.49,-0.38 333.87,-0.19 334.15,-0.19 334.25,-0.10 335.30,0.19 335.87,0.48 337.97,0.48 338.26,0.29 338.45,0.29 339.69,-0.19 339.98,-0.19 340.36,-0.38 340.36,-0.48 341.79,-1.91 341.89,-1.91 341.99,-2.10 341.99,-2.48 341.70,-2.77 341.32,-2.77 341.13,-2.67 341.13,-2.58 339.79,-1.24 339.41,-1.05 339.22,-1.05 337.97,-0.57 337.69,-0.57 337.59,-0.48 336.35,-0.48 334.82,-1.24 333.58,-2.48 332.91,-4.30 332.91,-4.58 332.82,-4.68 332.82,-5.54 332.91,-5.63 341.70,-5.63 341.99,-5.92 341.99,-7.93 341.79,-8.12 341.13,-9.55 341.03,-9.55 340.36,-10.31 338.93,-10.98 338.74,-11.17ZM333.10,-6.97 333.58,-8.21 334.82,-9.45 336.35,-10.22 338.26,-10.22 338.36,-10.12 338.55,-10.12 339.50,-9.65 339.69,-9.45 340.27,-8.31 340.27,-6.69 340.17,-6.59 333.20,-6.59 333.10,-6.69ZM312.95,-11.17 312.38,-10.89 312.19,-10.89 311.23,-10.51 310.95,-10.51 310.57,-10.31 310.57,-10.22 309.13,-8.79 309.04,-8.79 308.85,-8.40 308.85,-8.12 308.75,-8.02 308.37,-6.69 308.18,-6.40 308.18,-4.30 308.37,-4.01 308.37,-3.82 308.85,-2.58 308.85,-2.29 309.04,-1.91 309.13,-1.91 310.57,-0.48 310.57,-0.38 310.95,-0.19 311.23,-0.19 311.33,-0.10 312.38,0.19 312.95,0.48 315.05,0.48 315.34,0.29 315.53,0.29 316.77,-0.19 317.06,-0.19 317.44,-0.38 317.44,-0.48 318.87,-1.91 318.97,-1.91 319.07,-2.10 319.07,-2.48 318.78,-2.77 318.40,-2.77 318.21,-2.67 318.21,-2.58 316.87,-1.24 315.05,-0.57 314.77,-0.57 314.67,-0.48 313.43,-0.48 312.19,-1.05 310.66,-2.48 309.99,-4.30 309.99,-4.58 309.90,-4.68 309.90,-6.02 309.99,-6.11 309.99,-6.40 310.09,-6.49 310.47,-7.83 310.66,-8.21 311.90,-9.45 313.43,-10.22 315.34,-10.22 316.87,-9.45 317.44,-8.88 317.44,-8.69 316.77,-8.02 316.68,-8.02 316.58,-7.83 316.58,-7.45 316.68,-7.26 316.77,-7.26 317.44,-6.59 317.44,-6.49 317.63,-6.40 318.01,-6.40 318.21,-6.49 318.21,-6.59 318.87,-7.26 318.97,-7.26 319.07,-7.45 319.07,-8.60 318.97,-8.79 318.87,-8.79 317.44,-10.22 317.44,-10.31 316.01,-10.98 315.82,-11.17ZM299.30,-11.17 299.01,-10.89 299.01,-10.51 299.30,-10.22 301.21,-10.22 301.30,-10.12 301.30,-0.57 301.21,-0.48 299.30,-0.48 299.01,-0.19 299.01,0.19 299.30,0.48 305.03,0.48 305.31,0.19 305.31,-0.19 305.03,-0.48 303.12,-0.48 303.02,-0.57 303.02,-10.89 302.74,-11.17ZM274.85,-11.17 274.56,-10.89 274.56,-10.51 274.85,-10.22 276.76,-10.22 276.85,-10.12 276.85,-0.57 276.76,-0.48 274.85,-0.48 274.56,-0.19 274.56,0.19 274.85,0.48 280.58,0.48 280.87,0.19 280.87,-0.19 280.58,-0.48 278.67,-0.48 278.57,-0.57 278.57,-6.02 278.67,-6.11 278.67,-6.40 278.76,-6.49 279.15,-7.83 279.34,-8.21 280.58,-9.45 282.11,-10.22 283.54,-10.22 283.63,-10.03 283.16,-9.55 283.06,-9.55 282.97,-9.36 282.97,-8.98 283.06,-8.79 283.16,-8.79 283.83,-8.12 283.83,-8.02 284.02,-7.93 284.40,-7.93 284.59,-8.02 284.59,-8.12 285.26,-8.79 285.35,-8.79 285.45,-8.98 285.45,-10.12 285.35,-10.31 285.26,-10.31 284.59,-10.98 284.59,-11.08 284.40,-11.17 281.63,-11.17 281.44,-10.98 280.01,-10.31 280.01,-10.22 278.76,-8.98 278.67,-8.98 278.57,-9.07 278.57,-10.89 278.29,-11.17ZM260.91,-9.55 260.81,-9.36 260.81,-8.21 261.10,-7.93 262.24,-7.93 262.53,-8.21 262.53,-9.36 262.43,-9.55 263.77,-10.22 266.44,-10.22 267.69,-9.65 267.97,-9.45 268.45,-8.88 268.45,-7.93 267.97,-7.35 267.78,-7.35 267.69,-7.26 267.21,-7.26 267.11,-7.16 266.64,-7.16 266.54,-7.07 266.06,-7.07 265.97,-6.97 265.49,-6.97 265.39,-6.88 264.92,-6.88 264.82,-6.78 264.34,-6.78 264.25,-6.69 263.58,-6.69 263.48,-6.59 263.01,-6.49 262.72,-6.30 262.53,-6.30 261.57,-5.92 261.29,-5.92 260.81,-5.54 260.24,-4.30 260.05,-4.11 260.05,-2.01 260.24,-1.81 260.81,-0.57 261.10,-0.29 262.72,0.19 263.29,0.48 266.16,0.48 266.35,0.29 267.78,-0.38 267.78,-0.48 268.74,-1.43 268.93,-1.24 269.21,-0.57 269.50,-0.29 270.74,0.29 270.93,0.48 272.18,0.48 272.46,0.19 272.46,-0.19 272.18,-0.48 271.51,-0.48 270.93,-0.96 270.26,-2.20 270.26,-2.39 270.17,-2.48 270.17,-7.93 269.98,-8.12 269.41,-9.26 269.41,-9.45 269.12,-9.65 268.55,-10.22 268.55,-10.31 267.11,-10.98 266.92,-11.17 263.29,-11.17 263.10,-10.98 261.67,-10.31 261.67,-10.22 261.00,-9.55ZM268.45,-6.30 268.45,-2.58 268.36,-2.39 267.21,-1.24 265.78,-0.48 263.77,-0.48 262.53,-1.05 262.34,-1.24 261.77,-2.48 261.77,-3.63 262.34,-4.87 262.53,-5.06 264.06,-5.73 264.54,-5.73 264.63,-5.83 265.11,-5.83 265.20,-5.92 265.68,-5.92 265.78,-6.02 266.25,-6.02 266.35,-6.11 266.83,-6.11 266.92,-6.21 267.40,-6.21 267.50,-6.30 267.97,-6.30 268.07,-6.40 268.36,-6.40ZM228.63,-11.17 223.66,-11.17 223.37,-10.89 223.37,-10.51 223.66,-10.22 226.05,-10.22 226.14,-10.12 225.95,-9.84 225.95,-9.65 225.67,-9.17 225.67,-8.98 225.38,-8.50 225.38,-8.31 225.09,-7.83 225.09,-7.64 224.81,-7.16 224.81,-6.97 224.52,-6.49 224.52,-6.30 224.23,-5.83 224.23,-5.63 223.95,-5.16 223.95,-4.97 223.66,-4.49 223.66,-4.30 223.37,-3.82 223.37,-3.63 223.09,-3.15 223.09,-2.96 222.71,-2.20 222.61,-2.20 222.42,-2.48 222.23,-3.15 221.94,-3.63 221.75,-4.30 221.46,-4.78 221.27,-5.44 220.99,-5.92 220.80,-6.59 220.51,-7.07 220.32,-7.74 220.03,-8.21 220.03,-8.40 219.84,-8.69 219.84,-8.88 219.55,-9.36 219.55,-9.55 219.27,-10.12 219.36,-10.22 220.99,-10.22 221.27,-10.51 221.27,-10.89 220.99,-11.17 216.02,-11.17 215.73,-10.89 215.73,-10.51 216.02,-10.22 217.36,-10.22 217.45,-10.12 221.75,-0.10 221.75,0.10 220.51,2.58 219.08,4.11 218.31,4.49 218.12,4.20 218.03,4.20 217.36,3.53 217.36,3.44 217.17,3.34 216.78,3.34 216.59,3.44 216.59,3.53 215.93,4.20 215.83,4.20 215.73,4.39 215.73,4.78 215.83,4.97 215.93,4.97 216.59,5.63 216.59,5.73 216.78,5.83 218.03,5.83 218.22,5.63 219.65,4.97 219.65,4.87 221.08,3.44 221.18,3.44 222.61,0.48 222.80,0.29 222.99,-0.38 223.28,-0.86 223.28,-1.05 223.57,-1.53 223.57,-1.72 223.85,-2.20 223.85,-2.39 224.14,-2.87 224.14,-3.06 224.43,-3.53 224.43,-3.72 224.71,-4.20 224.71,-4.39 225.00,-4.87 225.00,-5.06 225.28,-5.54 225.28,-5.73 225.57,-6.21 225.57,-6.40 225.86,-6.88 225.86,-7.07 226.14,-7.54 226.14,-7.74 226.43,-8.21 226.43,-8.40 226.72,-8.88 226.72,-9.07 227.00,-9.55 227.00,-9.74 227.29,-10.22 228.63,-10.22 228.91,-10.51 228.91,-10.89ZM201.50,-11.17 201.22,-10.89 201.22,-10.51 201.50,-10.22 202.84,-10.22 203.13,-9.74 203.13,-9.55 203.41,-9.07 203.41,-8.88 203.70,-8.40 203.70,-8.21 203.99,-7.74 203.99,-7.54 204.27,-7.07 204.27,-6.88 204.56,-6.40 204.56,-6.21 204.85,-5.73 204.85,-5.54 205.13,-5.06 205.13,-4.87 205.42,-4.39 205.42,-4.20 205.71,-3.72 205.71,-3.53 205.99,-3.06 205.99,-2.87 206.28,-2.39 206.28,-2.20 206.57,-1.72 206.57,-1.53 206.85,-1.05 206.85,-0.86 207.14,-0.38 207.14,-0.19 207.33,0.19 207.62,0.48 208.00,0.48 208.29,0.19 208.48,-0.19 208.48,-0.38 208.76,-0.86 208.76,-1.05 209.05,-1.53 209.05,-1.72 209.34,-2.20 209.34,-2.39 209.62,-2.87 209.62,-3.06 209.91,-3.53 209.91,-3.72 210.20,-4.20 210.20,-4.39 210.48,-4.87 210.48,-5.06 210.77,-5.54 210.77,-5.73 211.06,-6.21 211.06,-6.40 211.34,-6.88 211.34,-7.07 211.63,-7.54 211.63,-7.74 211.91,-8.21 211.91,-8.40 212.20,-8.88 212.20,-9.07 212.49,-9.55 212.49,-9.74 212.77,-10.22 214.11,-10.22 214.40,-10.51 214.40,-10.89 214.11,-11.17 209.15,-11.17 208.86,-10.89 208.86,-10.51 209.15,-10.22 211.53,-10.22 211.63,-10.12 210.86,-8.50 210.86,-8.31 210.58,-7.83 210.58,-7.64 210.29,-7.16 210.29,-6.97 210.00,-6.49 210.00,-6.30 209.72,-5.83 209.72,-5.63 209.43,-5.16 209.43,-4.97 209.15,-4.49 209.15,-4.30 208.86,-3.82 208.86,-3.63 208.57,-3.15 208.57,-2.96 208.29,-2.48 208.29,-2.29 208.09,-2.20 207.90,-2.48 207.71,-3.15 207.43,-3.63 207.24,-4.30 206.95,-4.78 206.76,-5.44 206.47,-5.92 206.28,-6.59 205.99,-7.07 205.80,-7.74 205.52,-8.21 205.52,-8.40 205.33,-8.69 205.33,-8.88 205.04,-9.36 205.04,-9.55 204.75,-10.12 204.85,-10.22 206.47,-10.22 206.76,-10.51 206.76,-10.89 206.47,-11.17ZM188.33,-9.55 188.23,-9.36 188.23,-8.21 188.52,-7.93 189.66,-7.93 189.95,-8.21 189.95,-9.36 189.85,-9.55 191.19,-10.22 193.87,-10.22 195.11,-9.65 195.39,-9.45 195.87,-8.88 195.87,-7.93 195.39,-7.35 195.20,-7.35 195.11,-7.26 194.63,-7.26 194.53,-7.16 194.06,-7.16 193.96,-7.07 193.48,-7.07 193.39,-6.97 192.91,-6.97 192.81,-6.88 192.34,-6.88 192.24,-6.78 191.76,-6.78 191.67,-6.69 191.00,-6.69 190.90,-6.59 190.43,-6.49 190.14,-6.30 189.95,-6.30 188.99,-5.92 188.71,-5.92 188.23,-5.54 187.66,-4.30 187.47,-4.11 187.47,-2.01 187.66,-1.81 188.23,-0.57 188.52,-0.29 190.14,0.19 190.71,0.48 193.58,0.48 193.77,0.29 195.20,-0.38 195.20,-0.48 196.16,-1.43 196.35,-1.24 196.63,-0.57 196.92,-0.29 198.16,0.29 198.35,0.48 199.59,0.48 199.88,0.19 199.88,-0.19 199.59,-0.48 198.93,-0.48 198.35,-0.96 197.69,-2.20 197.69,-2.39 197.59,-2.48 197.59,-7.93 197.40,-8.12 196.83,-9.26 196.83,-9.45 196.54,-9.65 195.97,-10.22 195.97,-10.31 194.53,-10.98 194.34,-11.17 190.71,-11.17 190.52,-10.98 189.09,-10.31 189.09,-10.22 188.42,-9.55ZM195.87,-6.30 195.87,-2.58 195.78,-2.39 194.63,-1.24 193.20,-0.48 191.19,-0.48 189.95,-1.05 189.76,-1.24 189.19,-2.48 189.19,-3.63 189.76,-4.87 189.95,-5.06 191.48,-5.73 191.96,-5.73 192.05,-5.83 192.53,-5.83 192.62,-5.92 193.10,-5.92 193.20,-6.02 193.67,-6.02 193.77,-6.11 194.25,-6.11 194.34,-6.21 194.82,-6.21 194.92,-6.30 195.39,-6.30 195.49,-6.40 195.78,-6.40ZM177.73,-11.17 177.15,-10.89 176.96,-10.89 176.01,-10.51 175.72,-10.51 175.34,-10.31 175.34,-10.22 173.91,-8.79 173.81,-8.79 173.62,-8.40 173.62,-8.12 173.52,-8.02 173.14,-6.69 172.95,-6.40 172.95,-4.30 173.14,-4.01 173.14,-3.82 173.62,-2.58 173.62,-2.29 173.81,-1.91 173.91,-1.91 175.34,-0.48 175.34,-0.38 175.72,-0.19 176.01,-0.19 176.10,-0.10 177.15,0.19 177.73,0.48 179.83,0.48 180.11,0.29 180.30,0.29 181.55,-0.19 181.83,-0.19 182.21,-0.38 182.21,-0.48 183.65,-1.91 183.74,-1.91 183.84,-2.10 183.84,-2.48 183.55,-2.77 183.17,-2.77 182.98,-2.67 182.98,-2.58 181.64,-1.24 181.26,-1.05 181.07,-1.05 179.83,-0.57 179.54,-0.57 179.44,-0.48 178.20,-0.48 176.68,-1.24 175.43,-2.48 174.77,-4.30 174.77,-4.58 174.67,-4.68 174.67,-5.54 174.77,-5.63 183.55,-5.63 183.84,-5.92 183.84,-7.93 183.65,-8.12 182.98,-9.55 182.88,-9.55 182.21,-10.31 180.78,-10.98 180.59,-11.17ZM174.96,-6.97 175.43,-8.21 176.68,-9.45 178.20,-10.22 180.11,-10.22 180.21,-10.12 180.40,-10.12 181.35,-9.65 181.55,-9.45 182.12,-8.31 182.12,-6.69 182.02,-6.59 175.05,-6.59 174.96,-6.69ZM91.49,-11.17 91.20,-10.89 91.20,-10.51 91.49,-10.22 93.40,-10.22 93.49,-10.12 93.49,-0.57 93.40,-0.48 91.49,-0.48 91.20,-0.19 91.20,0.19 91.49,0.48 97.22,0.48 97.51,0.19 97.51,-0.19 97.22,-0.48 95.31,-0.48 95.21,-0.57 95.21,-6.02 95.31,-6.11 95.31,-6.40 95.40,-6.49 95.79,-7.83 95.98,-8.21 97.22,-9.45 98.75,-10.22 100.18,-10.22 100.28,-10.03 99.80,-9.55 99.70,-9.55 99.61,-9.36 99.61,-8.98 99.70,-8.79 99.80,-8.79 100.47,-8.12 100.47,-8.02 100.66,-7.93 101.04,-7.93 101.23,-8.02 101.23,-8.12 101.90,-8.79 101.99,-8.79 102.09,-8.98 102.09,-10.12 101.99,-10.31 101.90,-10.31 101.23,-10.98 101.23,-11.08 101.04,-11.17 98.27,-11.17 98.08,-10.98 96.65,-10.31 96.65,-10.22 95.40,-8.98 95.31,-8.98 95.21,-9.07 95.21,-10.89 94.93,-11.17ZM82.23,-11.17 81.65,-10.89 81.46,-10.89 80.51,-10.51 80.22,-10.51 79.84,-10.31 79.84,-10.22 78.41,-8.79 78.31,-8.79 78.12,-8.40 78.12,-8.12 78.02,-8.02 77.64,-6.69 77.45,-6.40 77.45,-4.30 77.64,-4.01 77.64,-3.82 78.12,-2.58 78.12,-2.29 78.31,-1.91 78.41,-1.91 79.84,-0.48 79.84,-0.38 80.22,-0.19 80.51,-0.19 80.60,-0.10 81.65,0.19 82.23,0.48 84.33,0.48 84.61,0.29 84.80,0.29 86.05,-0.19 86.33,-0.19 86.71,-0.38 86.71,-0.48 88.15,-1.91 88.24,-1.91 88.34,-2.10 88.34,-2.48 88.05,-2.77 87.67,-2.77 87.48,-2.67 87.48,-2.58 86.14,-1.24 85.76,-1.05 85.57,-1.05 84.33,-0.57 84.04,-0.57 83.94,-0.48 82.70,-0.48 81.17,-1.24 79.93,-2.48 79.27,-4.30 79.27,-4.58 79.17,-4.68 79.17,-5.54 79.27,-5.63 88.05,-5.63 88.34,-5.92 88.34,-7.93 88.15,-8.12 87.48,-9.55 87.38,-9.55 86.71,-10.31 85.28,-10.98 85.09,-11.17ZM79.46,-6.97 79.93,-8.21 81.17,-9.45 82.70,-10.22 84.61,-10.22 84.71,-10.12 84.90,-10.12 85.85,-9.65 86.05,-9.45 86.62,-8.31 86.62,-6.69 86.52,-6.59 79.55,-6.59 79.46,-6.69ZM35.43,-10.89 35.43,-10.51 35.72,-10.22 37.63,-10.22 37.72,-10.12 37.72,-0.57 37.63,-0.48 35.72,-0.48 35.43,-0.19 35.43,0.19 35.72,0.48 41.45,0.48 41.73,0.19 41.73,-0.19 41.45,-0.48 39.54,-0.48 39.44,-0.57 39.44,-8.12 39.54,-8.31 40.68,-9.45 42.50,-10.12 42.78,-10.12 42.88,-10.22 44.12,-10.22 45.36,-9.65 45.55,-9.45 46.13,-8.31 46.13,-0.57 46.03,-0.48 44.12,-0.48 43.83,-0.19 43.83,0.19 44.12,0.48 49.85,0.48 50.14,0.19 50.14,-0.19 49.85,-0.48 47.94,-0.48 47.85,-0.57 47.85,-8.12 47.94,-8.31 49.09,-9.45 50.90,-10.12 51.19,-10.12 51.28,-10.22 52.52,-10.22 53.77,-9.65 53.96,-9.45 54.53,-8.31 54.53,-0.57 54.44,-0.48 52.52,-0.48 52.24,-0.19 52.24,0.19 52.52,0.48 58.26,0.48 58.54,0.19 58.54,-0.19 58.26,-0.48 56.34,-0.48 56.25,-0.57 56.25,-8.69 56.06,-8.88 55.49,-10.12 55.01,-10.51 54.72,-10.51 54.63,-10.60 53.58,-10.89 53.00,-11.17 50.90,-11.17 50.62,-10.98 50.42,-10.98 49.18,-10.51 48.90,-10.51 48.51,-10.31 48.51,-10.22 47.56,-9.26 47.37,-9.45 47.08,-10.12 46.80,-10.41 45.17,-10.89 44.60,-11.17 42.50,-11.17 42.21,-10.98 42.02,-10.98 40.78,-10.51 40.49,-10.51 40.11,-10.31 40.11,-10.22 39.63,-9.74 39.44,-9.84 39.44,-10.89 39.16,-11.17 35.72,-11.17ZM18.62,-10.89 18.62,-10.51 18.91,-10.22 20.82,-10.22 20.91,-10.12 20.91,-2.01 21.11,-1.81 21.68,-0.57 21.96,-0.29 23.59,0.19 24.16,0.48 26.26,0.48 26.55,0.29 26.74,0.29 27.98,-0.19 28.27,-0.19 28.65,-0.38 28.65,-0.48 29.13,-0.96 29.22,-0.96 29.32,-0.86 29.32,0.19 29.61,0.48 33.04,0.48 33.33,0.19 33.33,-0.19 33.04,-0.48 31.13,-0.48 31.04,-0.57 31.04,-10.89 30.75,-11.17 27.31,-11.17 27.03,-10.89 27.03,-10.51 27.31,-10.22 29.22,-10.22 29.32,-10.12 29.32,-2.58 29.22,-2.39 28.08,-1.24 26.26,-0.57 25.98,-0.57 25.88,-0.48 24.64,-0.48 23.40,-1.05 23.21,-1.24 22.63,-2.48 22.63,-10.89 22.35,-11.17 18.91,-11.17ZM122.24,-11.27 122.14,-11.17 121.67,-11.08 121.38,-10.89 121.19,-10.89 120.23,-10.51 119.95,-10.51 119.57,-10.31 119.57,-10.22 118.13,-8.79 118.04,-8.79 117.85,-8.40 117.85,-8.12 117.75,-8.02 117.37,-6.69 117.18,-6.40 117.18,-4.30 117.37,-4.01 117.37,-3.82 117.85,-2.58 117.85,-2.29 118.04,-1.91 118.13,-1.91 119.57,-0.48 119.57,-0.38 119.95,-0.19 120.23,-0.19 120.33,-0.10 121.38,0.19 121.95,0.48 124.05,0.48 124.63,0.19 124.82,0.19 125.77,-0.19 126.06,-0.19 126.44,-0.38 126.44,-0.48 127.87,-1.91 127.97,-1.91 128.16,-2.29 128.16,-2.58 128.26,-2.67 128.64,-4.01 128.83,-4.30 128.83,-6.40 128.64,-6.69 128.64,-6.88 128.16,-8.12 128.16,-8.40 127.97,-8.79 127.87,-8.79 126.44,-10.22 126.44,-10.31 126.06,-10.51 125.77,-10.51 125.68,-10.60 124.63,-10.89 124.05,-11.17 122.34,-11.17ZM122.43,-10.22 123.58,-10.22 125.11,-9.45 126.35,-8.21 127.02,-6.40 127.02,-6.11 127.11,-6.02 127.11,-4.68 127.02,-4.58 127.02,-4.30 126.35,-2.48 125.11,-1.24 123.58,-0.48 122.43,-0.48 120.90,-1.24 119.66,-2.48 118.99,-4.30 118.99,-4.58 118.90,-4.68 118.90,-6.02 118.99,-6.11 118.99,-6.40 119.66,-8.21 120.90,-9.45ZM322.22,-16.52 321.93,-16.23 321.93,-15.85 322.22,-15.57 324.13,-15.57 324.22,-15.47 324.22,-0.57 324.13,-0.48 322.22,-0.48 321.93,-0.19 321.93,0.19 322.22,0.48 327.95,0.48 328.23,0.19 328.23,-0.19 327.95,-0.48 326.04,-0.48 325.94,-0.57 325.94,-16.23 325.66,-16.52ZM301.59,-16.52 301.40,-16.43 300.73,-15.66 300.63,-15.66 300.54,-15.47 300.54,-15.09 300.63,-14.90 300.73,-14.90 301.40,-14.23 301.40,-14.13 301.59,-14.04 301.97,-14.04 302.16,-14.13 302.16,-14.23 302.83,-14.90 302.93,-14.90 303.02,-15.09 303.02,-15.47 302.16,-16.43 301.97,-16.52ZM290.13,-16.52 289.84,-16.23 289.84,-11.27 289.75,-11.17 287.84,-11.17 287.55,-10.89 287.55,-10.51 287.84,-10.22 289.75,-10.22 289.84,-10.12 289.84,-2.77 290.03,-2.48 290.61,-0.57 290.89,-0.29 292.13,0.29 292.33,0.48 294.43,0.48 294.62,0.29 295.86,-0.29 296.15,-0.57 296.72,-1.81 296.91,-2.01 296.91,-2.48 296.62,-2.77 296.24,-2.77 295.95,-2.48 295.38,-1.24 295.19,-1.05 294.04,-0.48 292.90,-0.48 292.33,-0.96 292.13,-1.34 292.13,-1.53 291.66,-2.77 291.66,-3.06 291.56,-3.15 291.56,-10.12 291.66,-10.22 294.33,-10.22 294.62,-10.51 294.62,-10.89 294.33,-11.17 291.66,-11.17 291.56,-11.27 291.56,-16.23 291.27,-16.52 290.89,-16.52 290.70,-16.33 290.51,-16.52ZM242.76,-16.52 242.47,-16.23 242.47,-15.85 242.76,-15.57 244.67,-15.57 244.77,-15.47 244.77,-0.57 244.67,-0.48 242.76,-0.48 242.47,-0.19 242.47,0.19 242.76,0.48 248.49,0.48 248.78,0.19 248.78,-0.19 248.49,-0.48 246.58,-0.48 246.49,-0.57 246.49,-7.07 246.58,-7.16 252.41,-7.16 252.98,-7.45 253.17,-7.45 254.13,-7.83 254.41,-7.83 254.79,-8.02 254.79,-8.12 255.46,-8.79 255.56,-8.79 256.23,-10.22 256.42,-10.41 256.42,-13.27 256.23,-13.47 255.56,-14.90 255.46,-14.90 254.79,-15.57 254.79,-15.66 254.41,-15.85 254.13,-15.85 254.03,-15.95 252.98,-16.23 252.41,-16.52ZM246.49,-15.47 246.58,-15.57 251.93,-15.57 253.46,-14.80 254.13,-14.04 254.70,-12.89 254.70,-10.79 253.93,-9.36 253.17,-8.69 251.93,-8.12 246.58,-8.12 246.49,-8.21ZM154.14,-16.52 153.85,-16.23 153.85,-15.85 154.14,-15.57 156.05,-15.57 156.14,-15.47 156.14,-0.57 156.05,-0.48 154.14,-0.48 153.85,-0.19 153.85,0.19 154.14,0.48 159.87,0.48 160.15,0.19 160.15,-0.19 159.87,-0.48 157.96,-0.48 157.86,-0.57 157.86,-7.83 157.96,-7.93 165.98,-7.93 166.07,-7.83 166.07,-0.57 165.98,-0.48 164.07,-0.48 163.78,-0.19 163.78,0.19 164.07,0.48 169.80,0.48 170.09,0.19 170.09,-0.19 169.80,-0.48 167.89,-0.48 167.79,-0.57 167.79,-15.47 167.89,-15.57 169.80,-15.57 170.09,-15.85 170.09,-16.23 169.80,-16.52 164.07,-16.52 163.78,-16.23 163.78,-15.85 164.07,-15.57 165.98,-15.57 166.07,-15.47 166.07,-8.98 165.98,-8.88 157.96,-8.88 157.86,-8.98 157.86,-15.47 157.96,-15.57 159.87,-15.57 160.15,-15.85 160.15,-16.23 159.87,-16.52ZM138.47,-16.52 136.47,-16.52 136.28,-16.33 135.04,-15.76 134.75,-15.47 134.18,-14.23 133.99,-14.04 133.99,-11.27 133.89,-11.17 131.98,-11.17 131.69,-10.89 131.69,-10.51 131.98,-10.22 133.89,-10.22 133.99,-10.12 133.99,-0.57 133.89,-0.48 131.98,-0.48 131.69,-0.19 131.69,0.19 131.98,0.48 137.71,0.48 138.00,0.19 138.00,-0.19 137.71,-0.48 135.80,-0.48 135.71,-0.57 135.71,-10.12 135.80,-10.22 138.47,-10.22 138.76,-10.51 138.76,-10.89 138.47,-11.17 135.80,-11.17 135.71,-11.27 135.71,-13.56 136.28,-14.80 136.47,-15.09 137.04,-15.57 137.62,-15.57 137.71,-15.47 137.71,-15.38 137.23,-14.90 137.14,-14.90 137.04,-14.71 137.04,-14.33 137.14,-14.13 137.23,-14.13 137.90,-13.47 137.90,-13.37 138.09,-13.27 138.47,-13.27 138.67,-13.37 138.67,-13.47 139.33,-14.13 139.43,-14.13 139.53,-14.33 139.53,-15.47 139.43,-15.66 139.33,-15.66 138.67,-16.33 138.67,-16.43ZM60.93,-16.52 60.64,-16.23 60.64,-15.85 60.93,-15.57 62.84,-15.57 62.93,-15.47 62.93,0.19 63.22,0.48 63.60,0.48 63.79,0.29 63.98,0.48 64.37,0.48 64.65,0.19 64.65,-0.86 64.75,-0.96 64.84,-0.96 65.32,-0.48 65.32,-0.38 66.75,0.29 66.95,0.48 69.05,0.48 69.62,0.19 69.81,0.19 70.77,-0.19 71.05,-0.19 71.43,-0.38 71.43,-0.48 72.87,-1.91 72.96,-1.91 73.15,-2.29 73.15,-2.58 73.25,-2.67 73.63,-4.01 73.82,-4.30 73.82,-6.40 73.63,-6.69 73.63,-6.88 73.15,-8.12 73.15,-8.40 72.96,-8.79 72.87,-8.79 71.43,-10.22 71.43,-10.31 71.05,-10.51 70.77,-10.51 70.67,-10.60 69.62,-10.89 69.05,-11.17 66.95,-11.17 66.75,-10.98 65.32,-10.31 65.32,-10.22 64.84,-9.74 64.75,-9.74 64.65,-9.84 64.65,-16.23 64.37,-16.52ZM67.42,-10.22 68.57,-10.22 70.10,-9.45 71.34,-8.21 72.01,-6.40 72.01,-6.11 72.10,-6.02 72.10,-4.68 72.01,-4.58 72.01,-4.30 71.34,-2.48 70.10,-1.24 68.57,-0.48 67.33,-0.48 65.89,-1.24 64.75,-2.39 64.65,-2.58 64.65,-8.12 64.75,-8.31 65.89,-9.45ZM1.34,-16.52 1.05,-16.23 1.05,-15.85 1.34,-15.57 3.25,-15.57 3.34,-15.47 3.34,-0.57 3.25,-0.48 1.34,-0.48 1.05,-0.19 1.05,0.19 1.34,0.48 6.30,0.48 6.59,0.19 6.59,-0.19 6.30,-0.48 4.39,-0.48 4.30,-0.57 4.30,-13.75 4.39,-13.85 5.73,-11.84 6.30,-10.79 6.88,-10.03 7.45,-8.98 8.02,-8.21 8.60,-7.16 9.17,-6.40 9.74,-5.35 10.31,-4.58 10.89,-3.53 11.46,-2.77 12.03,-1.72 12.61,-0.96 12.70,-0.67 13.08,-0.19 13.27,0.29 13.56,0.48 13.94,0.48 14.23,0.19 14.23,-15.47 14.33,-15.57 16.23,-15.57 16.52,-15.85 16.52,-16.23 16.23,-16.52 11.27,-16.52 10.98,-16.23 10.98,-15.85 11.27,-15.57 13.18,-15.57 13.27,-15.47 13.27,-3.53 13.18,-3.44 12.61,-4.20 12.03,-5.25 11.46,-6.02 10.89,-7.07 10.31,-7.83 9.74,-8.88 9.17,-9.65 8.60,-10.70 8.02,-11.46 7.45,-12.51 5.73,-15.09 5.63,-15.38 5.25,-15.85 5.06,-16.33 4.78,-16.52ZM4.30,-15.28 4.39,-15.38 4.58,-15.09 4.39,-14.99 4.30,-15.09Z" fill="#646464" fill-rule="evenodd"/>
<path transform="translate(130.30,218.00) rotate(-90) translate(-1.08,0.00)" d="M96.48,-11.14 96.48,-10.75 96.77,-10.46 98.73,-10.46 98.83,-10.36 98.83,-0.59 98.73,-0.49 96.77,-0.49 96.48,-0.20 96.48,0.20 96.77,0.49 102.64,0.49 102.93,0.20 102.93,-0.20 102.64,-0.49 100.68,-0.49 100.58,-0.59 100.58,-8.31 100.68,-8.50 101.86,-9.68 103.71,-10.36 104.01,-10.36 104.10,-10.46 105.37,-10.46 106.65,-9.87 106.84,-9.68 107.43,-8.50 107.43,-0.59 107.33,-0.49 105.37,-0.49 105.08,-0.20 105.08,0.20 105.37,0.49 111.24,0.49 111.53,0.20 111.53,-0.20 111.24,-0.49 109.28,-0.49 109.19,-0.59 109.19,-8.90 108.99,-9.09 108.40,-10.36 108.11,-10.65 106.45,-11.14 105.86,-11.44 103.71,-11.44 103.42,-11.24 103.22,-11.24 101.95,-10.75 101.66,-10.75 101.27,-10.56 101.27,-10.46 100.78,-9.97 100.68,-9.97 100.58,-10.07 100.58,-11.14 100.29,-11.44 96.77,-11.44ZM72.53,-11.44 72.24,-11.14 72.24,-10.75 72.53,-10.46 74.49,-10.46 74.58,-10.36 74.58,-0.59 74.49,-0.49 72.53,-0.49 72.24,-0.20 72.24,0.20 72.53,0.49 78.40,0.49 78.69,0.20 78.69,-0.20 78.40,-0.49 76.44,-0.49 76.34,-0.59 76.34,-11.14 76.05,-11.44ZM51.32,-11.44 50.73,-11.14 50.54,-11.14 49.56,-10.75 49.27,-10.75 48.88,-10.56 48.88,-10.46 47.41,-8.99 47.31,-8.99 47.12,-8.60 47.12,-8.31 47.02,-8.21 46.63,-6.84 46.43,-6.55 46.43,-4.40 46.63,-4.11 46.63,-3.91 47.12,-2.64 47.12,-2.35 47.31,-1.96 47.41,-1.96 48.88,-0.49 48.88,-0.39 49.27,-0.20 49.56,-0.20 49.66,-0.10 50.73,0.20 51.32,0.49 53.47,0.49 53.76,0.29 53.96,0.29 55.23,-0.20 55.52,-0.20 55.91,-0.39 55.91,-0.49 57.38,-1.96 57.48,-1.96 57.57,-2.15 57.57,-2.54 57.28,-2.83 56.89,-2.83 56.70,-2.74 56.70,-2.64 55.33,-1.27 53.47,-0.59 53.18,-0.59 53.08,-0.49 51.81,-0.49 50.54,-1.08 48.97,-2.54 48.29,-4.40 48.29,-4.69 48.19,-4.79 48.19,-6.16 48.29,-6.26 48.29,-6.55 48.39,-6.65 48.78,-8.02 48.97,-8.41 50.24,-9.68 51.81,-10.46 53.76,-10.46 55.33,-9.68 55.91,-9.09 55.91,-8.90 55.23,-8.21 55.13,-8.21 55.03,-8.02 55.03,-7.62 55.13,-7.43 55.23,-7.43 55.91,-6.74 55.91,-6.65 56.11,-6.55 56.50,-6.55 56.70,-6.65 56.70,-6.74 57.38,-7.43 57.48,-7.43 57.57,-7.62 57.57,-8.80 57.48,-8.99 57.38,-8.99 55.91,-10.46 55.91,-10.56 54.45,-11.24 54.25,-11.44ZM31.67,-9.78 31.57,-9.58 31.57,-8.41 31.87,-8.11 33.04,-8.11 33.33,-8.41 33.33,-9.58 33.23,-9.78 34.60,-10.46 37.34,-10.46 38.61,-9.87 38.90,-9.68 39.39,-9.09 39.39,-8.11 38.90,-7.53 38.71,-7.53 38.61,-7.43 38.12,-7.43 38.02,-7.33 37.54,-7.33 37.44,-7.23 36.95,-7.23 36.85,-7.14 36.36,-7.14 36.27,-7.04 35.78,-7.04 35.68,-6.94 35.19,-6.94 35.09,-6.84 34.41,-6.84 34.31,-6.74 33.82,-6.65 33.53,-6.45 33.33,-6.45 32.36,-6.06 32.06,-6.06 31.57,-5.67 30.99,-4.40 30.79,-4.20 30.79,-2.05 30.99,-1.86 31.57,-0.59 31.87,-0.29 33.53,0.20 34.11,0.49 37.05,0.49 37.24,0.29 38.71,-0.39 38.71,-0.49 39.69,-1.47 39.88,-1.27 40.18,-0.59 40.47,-0.29 41.74,0.29 41.93,0.49 43.21,0.49 43.50,0.20 43.50,-0.20 43.21,-0.49 42.52,-0.49 41.93,-0.98 41.25,-2.25 41.25,-2.44 41.15,-2.54 41.15,-8.11 40.96,-8.31 40.37,-9.48 40.37,-9.68 40.08,-9.87 39.49,-10.46 39.49,-10.56 38.02,-11.24 37.83,-11.44 34.11,-11.44 33.92,-11.24 32.45,-10.56 32.45,-10.46 31.77,-9.78ZM39.39,-6.45 39.39,-2.64 39.30,-2.44 38.12,-1.27 36.66,-0.49 34.60,-0.49 33.33,-1.08 33.14,-1.27 32.55,-2.54 32.55,-3.71 33.14,-4.99 33.33,-5.18 34.90,-5.87 35.39,-5.87 35.48,-5.96 35.97,-5.96 36.07,-6.06 36.56,-6.06 36.66,-6.16 37.15,-6.16 37.24,-6.26 37.73,-6.26 37.83,-6.35 38.32,-6.35 38.42,-6.45 38.90,-6.45 39.00,-6.55 39.30,-6.55ZM17.01,-11.44 16.72,-11.14 16.72,-10.75 17.01,-10.46 18.96,-10.46 19.06,-10.36 19.06,-0.59 18.96,-0.49 17.01,-0.49 16.72,-0.20 16.72,0.20 17.01,0.49 22.87,0.49 23.17,0.20 23.17,-0.20 22.87,-0.49 20.92,-0.49 20.82,-0.59 20.82,-6.16 20.92,-6.26 20.92,-6.55 21.02,-6.65 21.41,-8.02 21.60,-8.41 22.87,-9.68 24.44,-10.46 25.90,-10.46 26.00,-10.26 25.51,-9.78 25.41,-9.78 25.32,-9.58 25.32,-9.19 25.41,-8.99 25.51,-8.99 26.20,-8.31 26.20,-8.21 26.39,-8.11 26.78,-8.11 26.98,-8.21 26.98,-8.31 27.66,-8.99 27.76,-8.99 27.86,-9.19 27.86,-10.36 27.76,-10.56 27.66,-10.56 26.98,-11.24 26.98,-11.34 26.78,-11.44 23.95,-11.44 23.75,-11.24 22.29,-10.56 22.29,-10.46 21.02,-9.19 20.92,-9.19 20.82,-9.29 20.82,-11.14 20.53,-11.44ZM86.80,-11.53 86.70,-11.44 86.22,-11.34 85.92,-11.14 85.73,-11.14 84.75,-10.75 84.46,-10.75 84.06,-10.56 84.06,-10.46 82.60,-8.99 82.50,-8.99 82.31,-8.60 82.31,-8.31 82.21,-8.21 81.82,-6.84 81.62,-6.55 81.62,-4.40 81.82,-4.11 81.82,-3.91 82.31,-2.64 82.31,-2.35 82.50,-1.96 82.60,-1.96 84.06,-0.49 84.06,-0.39 84.46,-0.20 84.75,-0.20 84.85,-0.10 85.92,0.20 86.51,0.49 88.66,0.49 89.25,0.20 89.44,0.20 90.42,-0.20 90.71,-0.20 91.10,-0.39 91.10,-0.49 92.57,-1.96 92.67,-1.96 92.86,-2.35 92.86,-2.64 92.96,-2.74 93.35,-4.11 93.55,-4.40 93.55,-6.55 93.35,-6.84 93.35,-7.04 92.86,-8.31 92.86,-8.60 92.67,-8.99 92.57,-8.99 91.10,-10.46 91.10,-10.56 90.71,-10.75 90.42,-10.75 90.32,-10.85 89.25,-11.14 88.66,-11.44 86.90,-11.44ZM87.00,-10.46 88.17,-10.46 89.73,-9.68 91.01,-8.41 91.69,-6.55 91.69,-6.26 91.79,-6.16 91.79,-4.79 91.69,-4.69 91.69,-4.40 91.01,-2.54 89.73,-1.27 88.17,-0.49 87.00,-0.49 85.43,-1.27 84.16,-2.54 83.48,-4.40 83.48,-4.69 83.38,-4.79 83.38,-6.16 83.48,-6.26 83.48,-6.55 84.16,-8.41 85.43,-9.68ZM74.88,-16.91 74.68,-16.81 74.00,-16.03 73.90,-16.03 73.80,-15.84 73.80,-15.44 73.90,-15.25 74.00,-15.25 74.68,-14.56 74.68,-14.47 74.88,-14.37 75.27,-14.37 75.46,-14.47 75.46,-14.56 76.15,-15.25 76.25,-15.25 76.34,-15.44 76.34,-15.84 75.46,-16.81 75.27,-16.91ZM63.15,-16.91 62.85,-16.62 62.85,-11.53 62.76,-11.44 60.80,-11.44 60.51,-11.14 60.51,-10.75 60.80,-10.46 62.76,-10.46 62.85,-10.36 62.85,-2.83 63.05,-2.54 63.64,-0.59 63.93,-0.29 65.20,0.29 65.39,0.49 67.55,0.49 67.74,0.29 69.01,-0.29 69.30,-0.59 69.89,-1.86 70.09,-2.05 70.09,-2.54 69.79,-2.83 69.40,-2.83 69.11,-2.54 68.52,-1.27 68.33,-1.08 67.15,-0.49 65.98,-0.49 65.39,-0.98 65.20,-1.37 65.20,-1.56 64.71,-2.83 64.71,-3.13 64.61,-3.23 64.61,-10.36 64.71,-10.46 67.45,-10.46 67.74,-10.75 67.74,-11.14 67.45,-11.44 64.71,-11.44 64.61,-11.53 64.61,-16.62 64.32,-16.91 63.93,-16.91 63.73,-16.72 63.54,-16.91ZM14.27,-16.91 1.37,-16.91 1.08,-16.62 1.08,-16.23 1.37,-15.93 3.32,-15.93 3.42,-15.84 3.42,-0.59 3.32,-0.49 1.37,-0.49 1.08,-0.20 1.08,0.20 1.37,0.49 7.23,0.49 7.53,0.20 7.53,-0.20 7.23,-0.49 5.28,-0.49 5.18,-0.59 5.18,-8.02 5.28,-8.11 8.80,-8.11 8.90,-8.02 8.90,-5.28 9.19,-4.99 9.58,-4.99 9.87,-5.28 9.87,-11.93 9.58,-12.22 9.19,-12.22 8.90,-11.93 8.90,-9.19 8.80,-9.09 5.28,-9.09 5.18,-9.19 5.18,-15.84 5.28,-15.93 12.81,-15.93 12.90,-15.84 12.90,-15.44 13.00,-15.35 13.00,-14.86 13.10,-14.76 13.10,-14.27 13.20,-14.17 13.20,-13.69 13.29,-13.59 13.29,-13.10 13.39,-13.00 13.39,-12.51 13.49,-12.41 13.49,-11.83 13.59,-11.73 13.59,-11.53 13.88,-11.24 14.27,-11.24 14.56,-11.53 14.56,-16.62Z" fill="#646464" fill-rule="evenodd"/>
<path transform="translate(130.30,518.00) rotate(-90) translate(-1.08,0.00)" d="M96.48,-11.14 96.48,-10.75 96.77,-10.46 98.73,-10.46 98.83,-10.36 98.83,-0.59 98.73,-0.49 96.77,-0.49 96.48,-0.20 96.48,0.20 96.77,0.49 102.64,0.49 102.93,0.20 102.93,-0.20 102.64,-0.49 100.68,-0.49 100.58,-0.59 100.58,-8.31 100.68,-8.50 101.86,-9.68 103.71,-10.36 104.01,-10.36 104.10,-10.46 105.37,-10.46 106.65,-9.87 106.84,-9.68 107.43,-8.50 107.43,-0.59 107.33,-0.49 105.37,-0.49 105.08,-0.20 105.08,0.20 105.37,0.49 111.24,0.49 111.53,0.20 111.53,-0.20 111.24,-0.49 109.28,-0.49 109.19,-0.59 109.19,-8.90 108.99,-9.09 108.40,-10.36 108.11,-10.65 106.45,-11.14 105.86,-11.44 103.71,-11.44 103.42,-11.24 103.22,-11.24 101.95,-10.75 101.66,-10.75 101.27,-10.56 101.27,-10.46 100.78,-9.97 100.68,-9.97 100.58,-10.07 100.58,-11.14 100.29,-11.44 96.77,-11.44ZM72.53,-11.44 72.24,-11.14 72.24,-10.75 72.53,-10.46 74.49,-10.46 74.58,-10.36 74.58,-0.59 74.49,-0.49 72.53,-0.49 72.24,-0.20 72.24,0.20 72.53,0.49 78.40,0.49 78.69,0.20 78.69,-0.20 78.40,-0.49 76.44,-0.49 76.34,-0.59 76.34,-11.14 76.05,-11.44ZM51.32,-11.44 50.73,-11.14 50.54,-11.14 49.56,-10.75 49.27,-10.75 48.88,-10.56 48.88,-10.46 47.41,-8.99 47.31,-8.99 47.12,-8.60 47.12,-8.31 47.02,-8.21 46.63,-6.84 46.43,-6.55 46.43,-4.40 46.63,-4.11 46.63,-3.91 47.12,-2.64 47.12,-2.35 47.31,-1.96 47.41,-1.96 48.88,-0.49 48.88,-0.39 49.27,-0.20 49.56,-0.20 49.66,-0.10 50.73,0.20 51.32,0.49 53.47,0.49 53.76,0.29 53.96,0.29 55.23,-0.20 55.52,-0.20 55.91,-0.39 55.91,-0.49 57.38,-1.96 57.48,-1.96 57.57,-2.15 57.57,-2.54 57.28,-2.83 56.89,-2.83 56.70,-2.74 56.70,-2.64 55.33,-1.27 53.47,-0.59 53.18,-0.59 53.08,-0.49 51.81,-0.49 50.54,-1.08 48.97,-2.54 48.29,-4.40 48.29,-4.69 48.19,-4.79 48.19,-6.16 48.29,-6.26 48.29,-6.55 48.39,-6.65 48.78,-8.02 48.97,-8.41 50.24,-9.68 51.81,-10.46 53.76,-10.46 55.33,-9.68 55.91,-9.09 55.91,-8.90 55.23,-8.21 55.13,-8.21 55.03,-8.02 55.03,-7.62 55.13,-7.43 55.23,-7.43 55.91,-6.74 55.91,-6.65 56.11,-6.55 56.50,-6.55 56.70,-6.65 56.70,-6.74 57.38,-7.43 57.48,-7.43 57.57,-7.62 57.57,-8.80 57.48,-8.99 57.38,-8.99 55.91,-10.46 55.91,-10.56 54.45,-11.24 54.25,-11.44ZM31.67,-9.78 31.57,-9.58 31.57,-8.41 31.87,-8.11 33.04,-8.11 33.33,-8.41 33.33,-9.58 33.23,-9.78 34.60,-10.46 37.34,-10.46 38.61,-9.87 38.90,-9.68 39.39,-9.09 39.39,-8.11 38.90,-7.53 38.71,-7.53 38.61,-7.43 38.12,-7.43 38.02,-7.33 37.54,-7.33 37.44,-7.23 36.95,-7.23 36.85,-7.14 36.36,-7.14 36.27,-7.04 35.78,-7.04 35.68,-6.94 35.19,-6.94 35.09,-6.84 34.41,-6.84 34.31,-6.74 33.82,-6.65 33.53,-6.45 33.33,-6.45 32.36,-6.06 32.06,-6.06 31.57,-5.67 30.99,-4.40 30.79,-4.20 30.79,-2.05 30.99,-1.86 31.57,-0.59 31.87,-0.29 33.53,0.20 34.11,0.49 37.05,0.49 37.24,0.29 38.71,-0.39 38.71,-0.49 39.69,-1.47 39.88,-1.27 40.18,-0.59 40.47,-0.29 41.74,0.29 41.93,0.49 43.21,0.49 43.50,0.20 43.50,-0.20 43.21,-0.49 42.52,-0.49 41.93,-0.98 41.25,-2.25 41.25,-2.44 41.15,-2.54 41.15,-8.11 40.96,-8.31 40.37,-9.48 40.37,-9.68 40.08,-9.87 39.49,-10.46 39.49,-10.56 38.02,-11.24 37.83,-11.44 34.11,-11.44 33.92,-11.24 32.45,-10.56 32.45,-10.46 31.77,-9.78ZM39.39,-6.45 39.39,-2.64 39.30,-2.44 38.12,-1.27 36.66,-0.49 34.60,-0.49 33.33,-1.08 33.14,-1.27 32.55,-2.54 32.55,-3.71 33.14,-4.99 33.33,-5.18 34.90,-5.87 35.39,-5.87 35.48,-5.96 35.97,-5.96 36.07,-6.06 36.56,-6.06 36.66,-6.16 37.15,-6.16 37.24,-6.26 37.73,-6.26 37.83,-6.35 38.32,-6.35 38.42,-6.45 38.90,-6.45 39.00,-6.55 39.30,-6.55ZM17.01,-11.44 16.72,-11.14 16.72,-10.75 17.01,-10.46 18.96,-10.46 19.06,-10.36 19.06,-0.59 18.96,-0.49 17.01,-0.49 16.72,-0.20 16.72,0.20 17.01,0.49 22.87,0.49 23.17,0.20 23.17,-0.20 22.87,-0.49 20.92,-0.49 20.82,-0.59 20.82,-6.16 20.92,-6.26 20.92,-6.55 21.02,-6.65 21.41,-8.02 21.60,-8.41 22.87,-9.68 24.44,-10.46 25.90,-10.46 26.00,-10.26 25.51,-9.78 25.41,-9.78 25.32,-9.58 25.32,-9.19 25.41,-8.99 25.51,-8.99 26.20,-8.31 26.20,-8.21 26.39,-8.11 26.78,-8.11 26.98,-8.21 26.98,-8.31 27.66,-8.99 27.76,-8.99 27.86,-9.19 27.86,-10.36 27.76,-10.56 27.66,-10.56 26.98,-11.24 26.98,-11.34 26.78,-11.44 23.95,-11.44 23.75,-11.24 22.29,-10.56 22.29,-10.46 21.02,-9.19 20.92,-9.19 20.82,-9.29 20.82,-11.14 20.53,-11.44ZM86.80,-11.53 86.70,-11.44 86.22,-11.34 85.92,-11.14 85.73,-11.14 84.75,-10.75 84.46,-10.75 84.06,-10.56 84.06,-10.46 82.60,-8.99 82.50,-8.99 82.31,-8.60 82.31,-8.31 82.21,-8.21 81.82,-6.84 81.62,-6.55 81.62,-4.40 81.82,-4.11 81.82,-3.91 82.31,-2.64 82.31,-2.35 82.50,-1.96 82.60,-1.96 84.06,-0.49 84.06,-0.39 84.46,-0.20 84.75,-0.20 84.85,-0.10 85.92,0.20 86.51,0.49 88.66,0.49 89.25,0.20 89.44,0.20 90.42,-0.20 90.71,-0.20 91.10,-0.39 91.10,-0.49 92.57,-1.96 92.67,-1.96 92.86,-2.35 92.86,-2.64 92.96,-2.74 93.35,-4.11 93.55,-4.40 93.55,-6.55 93.35,-6.84 93.35,-7.04 92.86,-8.31 92.86,-8.60 92.67,-8.99 92.57,-8.99 91.10,-10.46 91.10,-10.56 90.71,-10.75 90.42,-10.75 90.32,-10.85 89.25,-11.14 88.66,-11.44 86.90,-11.44ZM87.00,-10.46 88.17,-10.46 89.73,-9.68 91.01,-8.41 91.69,-6.55 91.69,-6.26 91.79,-6.16 91.79,-4.79 91.69,-4.69 91.69,-4.40 91.01,-2.54 89.73,-1.27 88.17,-0.49 87.00,-0.49 85.43,-1.27 84.16,-2.54 83.48,-4.40 83.48,-4.69 83.38,-4.79 83.38,-6.16 83.48,-6.26 83.48,-6.55 84.16,-8.41 85.43,-9.68ZM74.88,-16.91 74.68,-16.81 74.00,-16.03 73.90,-16.03 73.80,-15.84 73.80,-15.44 73.90,-15.25 74.00,-15.25 74.68,-14.56 74.68,-14.47 74.88,-14.37 75.27,-14.37 75.46,-14.47 75.46,-14.56 76.15,-15.25 76.25,-15.25 76.34,-15.44 76.34,-15.84 75.46,-16.81 75.27,-16.91ZM63.15,-16.91 62.85,-16.62 62.85,-11.53 62.76,-11.44 60.80,-11.44 60.51,-11.14 60.51,-10.75 60.80,-10.46 62.76,-10.46 62.85,-10.36 62.85,-2.83 63.05,-2.54 63.64,-0.59 63.93,-0.29 65.20,0.29 65.39,0.49 67.55,0.49 67.74,0.29 69.01,-0.29 69.30,-0.59 69.89,-1.86 70.09,-2.05 70.09,-2.54 69.79,-2.83 69.40,-2.83 69.11,-2.54 68.52,-1.27 68.33,-1.08 67.15,-0.49 65.98,-0.49 65.39,-0.98 65.20,-1.37 65.20,-1.56 64.71,-2.83 64.71,-3.13 64.61,-3.23 64.61,-10.36 64.71,-10.46 67.45,-10.46 67.74,-10.75 67.74,-11.14 67.45,-11.44 64.71,-11.44 64.61,-11.53 64.61,-16.62 64.32,-16.91 63.93,-16.91 63.73,-16.72 63.54,-16.91ZM14.27,-16.91 1.37,-16.91 1.08,-16.62 1.08,-16.23 1.37,-15.93 3.32,-15.93 3.42,-15.84 3.42,-0.59 3.32,-0.49 1.37,-0.49 1.08,-0.20 1.08,0.20 1.37,0.49 7.23,0.49 7.53,0.20 7.53,-0.20 7.23,-0.49 5.28,-0.49 5.18,-0.59 5.18,-8.02 5.28,-8.11 8.80,-8.11 8.90,-8.02 8.90,-5.28 9.19,-4.99 9.58,-4.99 9.87,-5.28 9.87,-11.93 9.58,-12.22 9.19,-12.22 8.90,-11.93 8.90,-9.19 8.80,-9.09 5.28,-9.09 5.18,-9.19 5.18,-15.84 5.28,-15.93 12.81,-15.93 12.90,-15.84 12.90,-15.44 13.00,-15.35 13.00,-14.86 13.10,-14.76 13.10,-14.27 13.20,-14.17 13.20,-13.69 13.29,-13.59 13.29,-13.10 13.39,-13.00 13.39,-12.51 13.49,-12.41 13.49,-11.83 13.59,-11.73 13.59,-11.53 13.88,-11.24 14.27,-11.24 14.56,-11.53 14.56,-16.62Z" fill="#646464" fill-rule="evenodd"/>
<path transform="translate(399.00,326.30) translate(-1.05,0.00)" d="M1.05,-10.89 1.05,-10.51 1.34,-10.22 3.25,-10.22 3.34,-10.12 3.34,-0.57 3.25,-0.48 1.34,-0.48 1.05,-0.19 1.05,0.19 1.34,0.48 7.07,0.48 7.35,0.19 7.35,-0.19 7.07,-0.48 5.16,-0.48 5.06,-0.57 5.06,-8.12 5.16,-8.31 6.30,-9.45 8.12,-10.12 8.40,-10.12 8.50,-10.22 9.74,-10.22 10.98,-9.65 11.17,-9.45 11.75,-8.31 11.75,-0.57 11.65,-0.48 9.74,-0.48 9.45,-0.19 9.45,0.19 9.74,0.48 15.47,0.48 15.76,0.19 15.76,-0.19 15.47,-0.48 13.56,-0.48 13.47,-0.57 13.47,-8.12 13.56,-8.31 14.71,-9.45 16.52,-10.12 16.81,-10.12 16.90,-10.22 18.14,-10.22 19.39,-9.65 19.58,-9.45 20.15,-8.31 20.15,-0.57 20.05,-0.48 18.14,-0.48 17.86,-0.19 17.86,0.19 18.14,0.48 23.88,0.48 24.16,0.19 24.16,-0.19 23.88,-0.48 21.96,-0.48 21.87,-0.57 21.87,-8.69 21.68,-8.88 21.11,-10.12 20.63,-10.51 20.34,-10.51 20.25,-10.60 19.20,-10.89 18.62,-11.17 16.52,-11.17 16.23,-10.98 16.04,-10.98 14.80,-10.51 14.52,-10.51 14.13,-10.31 14.13,-10.22 13.18,-9.26 12.99,-9.45 12.70,-10.12 12.42,-10.41 10.79,-10.89 10.22,-11.17 8.12,-11.17 7.83,-10.98 7.64,-10.98 6.40,-10.51 6.11,-10.51 5.73,-10.31 5.73,-10.22 5.25,-9.74 5.06,-9.84 5.06,-10.89 4.78,-11.17 1.34,-11.17Z" fill="#646464" fill-rule="evenodd"/>
<path transform="translate(425.10,333.20) translate(-2.27,0.00)" d="M5.12,-10.01 4.89,-10.01 4.66,-9.90 3.30,-8.53 2.56,-8.19 2.27,-7.85 2.27,-7.62 2.33,-7.51 2.62,-7.28 2.90,-7.28 3.81,-7.74 4.04,-7.91 4.09,-7.85 4.09,-0.51 4.04,-0.46 2.62,-0.46 2.50,-0.40 2.27,-0.11 2.27,0.11 2.33,0.23 2.62,0.46 6.94,0.46 7.05,0.40 7.28,0.11 7.28,-0.11 7.22,-0.23 6.94,-0.46 5.52,-0.46 5.46,-0.51 5.46,-9.67 5.40,-9.78Z" fill="#646464" fill-rule="evenodd"/>
<path transform="translate(433.00,326.30) translate(-1.05,0.00)" d="M15.47,-19.58 15.09,-19.58 14.61,-19.00 14.33,-18.34 13.75,-17.48 13.47,-16.81 12.89,-15.95 12.61,-15.28 12.03,-14.42 11.75,-13.75 11.17,-12.89 10.89,-12.22 10.31,-11.36 10.03,-10.70 9.45,-9.84 9.17,-9.17 8.60,-8.31 8.31,-7.64 7.74,-6.78 7.45,-6.11 6.88,-5.25 6.59,-4.58 6.02,-3.72 5.73,-3.06 5.16,-2.20 4.87,-1.53 4.30,-0.67 4.01,0.00 3.44,0.86 3.15,1.53 2.58,2.39 1.43,4.58 1.05,5.06 1.05,5.54 1.34,5.83 1.72,5.83 2.20,5.25 2.48,4.58 3.06,3.72 3.34,3.06 3.92,2.20 4.20,1.53 4.78,0.67 5.06,0.00 5.63,-0.86 5.92,-1.53 6.49,-2.39 6.78,-3.06 7.35,-3.92 7.64,-4.58 8.21,-5.44 8.50,-6.11 9.07,-6.97 9.36,-7.64 9.93,-8.50 10.22,-9.17 10.79,-10.03 11.08,-10.70 11.65,-11.56 11.94,-12.22 12.51,-13.08 12.80,-13.75 13.37,-14.61 13.66,-15.28 14.23,-16.14 15.38,-18.34 15.76,-18.81 15.76,-19.29Z" fill="#646464" fill-rule="evenodd"/>
<path transform="translate(450.70,326.30) translate(-1.05,0.00)" d="M1.05,-10.89 1.05,-10.51 1.34,-10.22 3.25,-10.22 3.34,-10.12 3.34,-0.57 3.25,-0.48 1.34,-0.48 1.05,-0.19 1.05,0.19 1.34,0.48 7.07,0.48 7.35,0.19 7.35,-0.19 7.07,-0.48 5.16,-0.48 5.06,-0.57 5.06,-8.12 5.16,-8.31 6.30,-9.45 8.12,-10.12 8.40,-10.12 8.50,-10.22 9.74,-10.22 10.98,-9.65 11.17,-9.45 11.75,-8.31 11.75,-0.57 11.65,-0.48 9.74,-0.48 9.45,-0.19 9.45,0.19 9.74,0.48 15.47,0.48 15.76,0.19 15.76,-0.19 15.47,-0.48 13.56,-0.48 13.47,-0.57 13.47,-8.12 13.56,-8.31 14.71,-9.45 16.52,-10.12 16.81,-10.12 16.90,-10.22 18.14,-10.22 19.39,-9.65 19.58,-9.45 20.15,-8.31 20.15,-0.57 20.05,-0.48 18.14,-0.48 17.86,-0.19 17.86,0.19 18.14,0.48 23.88,0.48 24.16,0.19 24.16,-0.19 23.88,-0.48 21.96,-0.48 21.87,-0.57 21.87,-8.69 21.68,-8.88 21.11,-10.12 20.63,-10.51 20.34,-10.51 20.25,-10.60 19.20,-10.89 18.62,-11.17 16.52,-11.17 16.23,-10.98 16.04,-10.98 14.80,-10.51 14.52,-10.51 14.13,-10.31 14.13,-10.22 13.18,-9.26 12.99,-9.45 12.70,-10.12 12.42,-10.41 10.79,-10.89 10.22,-11.17 8.12,-11.17 7.83,-10.98 7.64,-10.98 6.40,-10.51 6.11,-10.51 5.73,-10.31 5.73,-10.22 5.25,-9.74 5.06,-9.84 5.06,-10.89 4.78,-11.17 1.34,-11.17Z" fill="#646464" fill-rule="evenodd"/>
<path transform="translate(474.90,333.20) translate(-0.91,0.00)" d="M2.10,-9.55 1.48,-8.99 0.91,-7.91 0.91,-7.17 1.02,-6.94 1.48,-6.48 1.71,-6.37 1.93,-6.37 2.16,-6.48 2.62,-6.94 2.73,-7.17 2.73,-7.39 2.62,-7.62 2.10,-8.13 2.16,-8.30 2.56,-8.70 3.47,-8.99 3.53,-9.04 3.70,-9.04 3.75,-9.10 5.35,-9.10 6.03,-8.76 6.48,-8.30 6.83,-7.62 6.83,-6.94 6.43,-6.20 5.23,-5.40 2.56,-4.09 2.39,-3.98 1.48,-3.07 1.36,-2.90 1.36,-2.79 0.91,-1.54 0.91,0.11 0.97,0.23 1.25,0.46 1.48,0.46 1.59,0.40 1.82,0.11 1.82,-0.68 2.05,-0.91 2.56,-0.91 3.47,-0.40 3.58,-0.28 3.75,-0.23 3.87,-0.11 4.04,-0.06 4.15,0.06 4.32,0.11 4.44,0.23 4.61,0.28 4.72,0.40 4.83,0.40 4.89,0.46 6.94,0.46 7.17,0.34 7.62,-0.11 8.08,-1.02 8.19,-1.14 8.19,-2.39 7.96,-2.67 7.85,-2.73 7.62,-2.73 7.34,-2.50 7.28,-2.39 7.28,-1.59 6.94,-1.25 6.26,-0.91 5.12,-0.91 5.06,-0.97 4.78,-1.02 4.61,-1.14 4.49,-1.14 4.32,-1.25 4.21,-1.25 4.04,-1.36 3.92,-1.36 3.75,-1.48 3.64,-1.48 3.47,-1.59 3.36,-1.59 3.19,-1.71 3.07,-1.71 2.90,-1.82 2.10,-1.82 2.05,-1.88 2.05,-1.99 2.22,-2.45 3.07,-3.30 3.75,-3.64 3.87,-3.64 4.27,-3.87 4.38,-3.87 4.55,-3.98 4.66,-3.98 4.83,-4.09 4.95,-4.09 5.12,-4.21 5.23,-4.21 5.40,-4.32 5.52,-4.32 5.69,-4.44 6.09,-4.55 7.56,-5.52 7.74,-5.74 8.19,-6.65 8.19,-7.91 7.74,-8.82 7.17,-9.44 7.00,-9.55 5.86,-9.90 5.69,-10.01 3.47,-10.01 3.41,-9.95Z" fill="#646464" fill-rule="evenodd"/>
<path transform="translate(574.00,138.10) scale(1,0.94) translate(-0.57,0.00)" d="M34.80,-8.19 34.75,-8.14 34.47,-8.08 34.07,-7.63 34.07,-7.46 34.01,-7.40 34.01,-7.23 34.07,-7.18 34.07,-5.37 33.96,-5.25 31.70,-5.25 31.58,-5.20 31.19,-4.75 31.19,-4.58 31.13,-4.52 31.13,-4.07 31.30,-3.62 31.47,-3.45 31.70,-3.33 31.87,-3.33 31.92,-3.28 34.01,-3.28 34.07,-3.22 34.07,-1.36 34.01,-1.30 34.07,-0.96 34.18,-0.73 34.35,-0.57 34.58,-0.45 34.69,-0.45 34.75,-0.40 35.37,-0.40 35.43,-0.45 35.54,-0.45 35.88,-0.73 36.05,-1.19 36.05,-1.36 35.99,-1.41 35.99,-3.22 36.05,-3.28 38.19,-3.28 38.25,-3.33 38.42,-3.33 38.59,-3.45 38.87,-3.79 38.87,-3.96 38.93,-4.01 38.93,-4.46 38.87,-4.52 38.87,-4.75 38.82,-4.86 38.53,-5.14 38.31,-5.25 36.10,-5.25 35.99,-5.37 35.99,-7.23 36.05,-7.29 35.99,-7.40 35.99,-7.63 35.93,-7.74 35.48,-8.14 35.26,-8.14 35.20,-8.19 35.09,-8.19 35.03,-8.14 34.97,-8.19ZM14.46,-8.19 14.41,-8.14 14.12,-8.08 13.73,-7.63 13.73,-7.46 13.67,-7.40 13.67,-7.23 13.73,-7.18 13.73,-5.37 13.62,-5.25 11.36,-5.25 11.24,-5.20 10.85,-4.75 10.85,-4.58 10.79,-4.52 10.79,-4.07 10.96,-3.62 11.13,-3.45 11.36,-3.33 11.53,-3.33 11.58,-3.28 13.67,-3.28 13.73,-3.22 13.73,-1.36 13.67,-1.30 13.73,-0.96 13.84,-0.73 14.01,-0.57 14.24,-0.45 14.35,-0.45 14.41,-0.40 15.03,-0.40 15.09,-0.45 15.20,-0.45 15.54,-0.73 15.71,-1.19 15.71,-1.36 15.65,-1.41 15.65,-3.22 15.71,-3.28 17.85,-3.28 17.91,-3.33 18.08,-3.33 18.25,-3.45 18.53,-3.79 18.53,-3.96 18.59,-4.01 18.59,-4.46 18.53,-4.52 18.53,-4.75 18.48,-4.86 18.19,-5.14 17.97,-5.25 15.76,-5.25 15.65,-5.37 15.65,-7.23 15.71,-7.29 15.65,-7.40 15.65,-7.63 15.59,-7.74 15.14,-8.14 14.92,-8.14 14.86,-8.19 14.75,-8.19 14.69,-8.14 14.63,-8.19ZM46.27,-10.28 45.88,-10.28 45.77,-10.23 45.37,-9.83 45.37,-9.77 44.75,-9.10 44.75,-9.04 44.47,-8.76 43.84,-8.42 43.62,-8.19 43.51,-7.97 43.51,-7.40 43.62,-7.18 43.96,-6.89 44.35,-6.89 44.52,-7.01 44.63,-6.95 44.63,-1.07 44.58,-0.96 44.35,-0.79 43.62,-0.79 43.28,-0.57 43.11,-0.23 43.11,0.23 43.28,0.57 43.62,0.79 47.74,0.79 48.08,0.57 48.25,0.23 48.25,-0.23 48.08,-0.57 47.97,-0.68 47.74,-0.79 47.01,-0.79 46.90,-0.85 46.73,-1.07 46.73,-9.77 46.61,-10.00ZM25.93,-10.28 25.54,-10.28 25.43,-10.23 25.03,-9.83 25.03,-9.77 24.41,-9.10 24.41,-9.04 24.13,-8.76 23.50,-8.42 23.28,-8.19 23.16,-7.97 23.16,-7.40 23.28,-7.18 23.62,-6.89 24.01,-6.89 24.18,-7.01 24.30,-6.95 24.30,-1.07 24.24,-0.96 24.01,-0.79 23.28,-0.79 22.94,-0.57 22.77,-0.23 22.77,0.23 22.94,0.57 23.28,0.79 27.40,0.79 27.74,0.57 27.91,0.23 27.91,-0.23 27.74,-0.57 27.63,-0.68 27.40,-0.79 26.67,-0.79 26.55,-0.85 26.39,-1.07 26.39,-9.77 26.27,-10.00ZM2.03,-9.83 1.81,-9.72 1.13,-9.04 0.57,-7.91 0.57,-7.01 0.68,-6.78 1.36,-6.10 1.58,-5.99 2.49,-5.99 2.71,-6.10 3.39,-6.78 3.50,-7.01 3.50,-7.91 3.39,-8.14 3.11,-8.42 3.22,-8.53 3.33,-8.53 3.73,-8.70 5.20,-8.70 5.59,-8.53 5.71,-8.42 5.71,-8.31 5.99,-7.57 5.99,-7.01 5.71,-6.38 4.92,-5.59 3.45,-4.86 3.33,-4.86 3.11,-4.69 2.54,-4.41 2.43,-4.41 2.26,-4.29 1.13,-3.16 1.02,-2.94 0.68,-1.81 0.57,-1.64 0.57,0.23 0.68,0.45 0.90,0.68 1.13,0.79 1.58,0.79 1.81,0.68 2.03,0.45 2.15,0.23 2.15,-0.51 2.20,-0.57 2.49,-0.57 4.75,0.79 7.01,0.79 7.23,0.68 7.91,0.00 8.47,-1.13 8.47,-2.49 8.36,-2.71 8.14,-2.94 7.91,-3.05 7.46,-3.05 7.23,-2.94 7.01,-2.71 6.89,-2.49 6.89,-1.92 6.72,-1.75 6.61,-1.75 6.55,-1.70 5.03,-1.70 4.97,-1.75 4.69,-1.75 4.63,-1.81 4.41,-1.81 4.35,-1.86 4.12,-1.86 4.07,-1.92 3.28,-2.03 3.22,-2.09 2.77,-2.15 2.71,-2.20 2.66,-2.15 2.54,-2.15 2.49,-2.26 3.22,-2.99 4.18,-3.45 4.29,-3.45 4.58,-3.62 4.69,-3.62 4.86,-3.73 4.97,-3.73 5.71,-4.07 5.99,-4.12 6.33,-4.29 7.46,-5.08 7.63,-5.14 8.02,-5.59 8.02,-5.71 8.47,-6.55 8.47,-7.91 8.42,-7.97 8.42,-8.08 8.31,-8.19 7.91,-9.04 7.23,-9.72 7.01,-9.83 5.88,-10.17 5.71,-10.28 3.33,-10.28 3.16,-10.17Z" fill="#0000f0" fill-rule="evenodd"/>
<path transform="translate(574.00,160.80) scale(1,0.94) translate(-0.57,0.00)" d="M14.46,-8.19 14.41,-8.14 14.12,-8.08 13.73,-7.63 13.73,-7.46 13.67,-7.40 13.67,-7.23 13.73,-7.18 13.73,-5.37 13.62,-5.25 11.36,-5.25 11.24,-5.20 10.85,-4.75 10.85,-4.58 10.79,-4.52 10.79,-4.07 10.96,-3.62 11.13,-3.45 11.36,-3.33 11.53,-3.33 11.58,-3.28 13.67,-3.28 13.73,-3.22 13.73,-1.36 13.67,-1.30 13.73,-0.96 13.84,-0.73 14.01,-0.57 14.24,-0.45 14.35,-0.45 14.41,-0.40 15.03,-0.40 15.09,-0.45 15.20,-0.45 15.54,-0.73 15.71,-1.19 15.71,-1.36 15.65,-1.41 15.65,-3.22 15.71,-3.28 17.85,-3.28 17.91,-3.33 18.08,-3.33 18.25,-3.45 18.53,-3.79 18.53,-3.96 18.59,-4.01 18.59,-4.46 18.53,-4.52 18.53,-4.75 18.48,-4.86 18.19,-5.14 17.97,-5.25 15.76,-5.25 15.65,-5.37 15.65,-7.23 15.71,-7.29 15.65,-7.40 15.65,-7.63 15.59,-7.74 15.14,-8.14 14.92,-8.14 14.86,-8.19 14.75,-8.19 14.69,-8.14 14.63,-8.19ZM22.37,-9.83 22.15,-9.72 21.47,-9.04 20.91,-7.91 20.91,-7.01 21.02,-6.78 21.70,-6.10 21.92,-5.99 22.83,-5.99 23.05,-6.10 23.73,-6.78 23.84,-7.01 23.84,-7.91 23.73,-8.14 23.45,-8.42 23.56,-8.53 23.67,-8.53 24.07,-8.70 25.54,-8.70 25.93,-8.53 26.05,-8.42 26.05,-8.31 26.33,-7.57 26.33,-7.01 26.05,-6.38 25.26,-5.59 23.79,-4.86 23.67,-4.86 23.45,-4.69 22.88,-4.41 22.77,-4.41 22.60,-4.29 21.47,-3.16 21.36,-2.94 21.02,-1.81 20.91,-1.64 20.91,0.23 21.02,0.45 21.24,0.68 21.47,0.79 21.92,0.79 22.15,0.68 22.37,0.45 22.49,0.23 22.49,-0.51 22.54,-0.57 22.83,-0.57 25.09,0.79 27.35,0.79 27.57,0.68 28.25,0.00 28.82,-1.13 28.82,-2.49 28.70,-2.71 28.48,-2.94 28.25,-3.05 27.80,-3.05 27.57,-2.94 27.35,-2.71 27.23,-2.49 27.23,-1.92 27.06,-1.75 26.95,-1.75 26.89,-1.70 25.37,-1.70 25.31,-1.75 25.03,-1.75 24.97,-1.81 24.75,-1.81 24.69,-1.86 24.46,-1.86 24.41,-1.92 23.62,-2.03 23.56,-2.09 23.11,-2.15 23.05,-2.20 23.00,-2.15 22.88,-2.15 22.83,-2.26 23.56,-2.99 24.52,-3.45 24.63,-3.45 24.92,-3.62 25.03,-3.62 25.20,-3.73 25.31,-3.73 26.05,-4.07 26.33,-4.12 26.67,-4.29 27.80,-5.08 27.97,-5.14 28.36,-5.59 28.36,-5.71 28.82,-6.55 28.82,-7.91 28.76,-7.97 28.76,-8.08 28.65,-8.19 28.25,-9.04 27.57,-9.72 27.35,-9.83 26.22,-10.17 26.05,-10.28 23.67,-10.28 23.50,-10.17ZM2.03,-9.83 1.81,-9.72 1.13,-9.04 0.57,-7.91 0.57,-7.01 0.68,-6.78 1.36,-6.10 1.58,-5.99 2.49,-5.99 2.71,-6.10 3.39,-6.78 3.50,-7.01 3.50,-7.91 3.39,-8.14 3.11,-8.42 3.22,-8.53 3.33,-8.53 3.73,-8.70 5.20,-8.70 5.59,-8.53 5.71,-8.42 5.71,-8.31 5.99,-7.57 5.99,-7.01 5.71,-6.38 4.92,-5.59 3.45,-4.86 3.33,-4.86 3.11,-4.69 2.54,-4.41 2.43,-4.41 2.26,-4.29 1.13,-3.16 1.02,-2.94 0.68,-1.81 0.57,-1.64 0.57,0.23 0.68,0.45 0.90,0.68 1.13,0.79 1.58,0.79 1.81,0.68 2.03,0.45 2.15,0.23 2.15,-0.51 2.20,-0.57 2.49,-0.57 4.75,0.79 7.01,0.79 7.23,0.68 7.91,0.00 8.47,-1.13 8.47,-2.49 8.36,-2.71 8.14,-2.94 7.91,-3.05 7.46,-3.05 7.23,-2.94 7.01,-2.71 6.89,-2.49 6.89,-1.92 6.72,-1.75 6.61,-1.75 6.55,-1.70 5.03,-1.70 4.97,-1.75 4.69,-1.75 4.63,-1.81 4.41,-1.81 4.35,-1.86 4.12,-1.86 4.07,-1.92 3.28,-2.03 3.22,-2.09 2.77,-2.15 2.71,-2.20 2.66,-2.15 2.54,-2.15 2.49,-2.26 3.22,-2.99 4.18,-3.45 4.29,-3.45 4.58,-3.62 4.69,-3.62 4.86,-3.73 4.97,-3.73 5.71,-4.07 5.99,-4.12 6.33,-4.29 7.46,-5.08 7.63,-5.14 8.02,-5.59 8.02,-5.71 8.47,-6.55 8.47,-7.91 8.42,-7.97 8.42,-8.08 8.31,-8.19 7.91,-9.04 7.23,-9.72 7.01,-9.83 5.88,-10.17 5.71,-10.28 3.33,-10.28 3.16,-10.17Z" fill="#f00000" fill-rule="evenodd"/>
<path transform="translate(574.00,183.90) scale(1,0.94) translate(-0.57,0.00)" d="M14.46,-8.19 14.41,-8.14 14.12,-8.08 13.73,-7.63 13.73,-7.46 13.67,-7.40 13.67,-7.23 13.73,-7.18 13.73,-5.37 13.62,-5.25 11.36,-5.25 11.24,-5.20 10.85,-4.75 10.85,-4.58 10.79,-4.52 10.79,-4.07 10.96,-3.62 11.13,-3.45 11.36,-3.33 11.53,-3.33 11.58,-3.28 13.67,-3.28 13.73,-3.22 13.73,-1.36 13.67,-1.30 13.73,-0.96 13.84,-0.73 14.01,-0.57 14.24,-0.45 14.35,-0.45 14.41,-0.40 15.03,-0.40 15.09,-0.45 15.20,-0.45 15.54,-0.73 15.71,-1.19 15.71,-1.36 15.65,-1.41 15.65,-3.22 15.71,-3.28 17.85,-3.28 17.91,-3.33 18.08,-3.33 18.25,-3.45 18.53,-3.79 18.53,-3.96 18.59,-4.01 18.59,-4.46 18.53,-4.52 18.53,-4.75 18.48,-4.86 18.19,-5.14 17.97,-5.25 15.76,-5.25 15.65,-5.37 15.65,-7.23 15.71,-7.29 15.65,-7.40 15.65,-7.63 15.59,-7.74 15.14,-8.14 14.92,-8.14 14.86,-8.19 14.75,-8.19 14.69,-8.14 14.63,-8.19ZM25.93,-10.28 25.54,-10.28 25.43,-10.23 25.03,-9.83 25.03,-9.77 24.41,-9.10 24.41,-9.04 24.13,-8.76 23.50,-8.42 23.28,-8.19 23.16,-7.97 23.16,-7.40 23.28,-7.18 23.62,-6.89 24.01,-6.89 24.18,-7.01 24.30,-6.95 24.30,-1.07 24.24,-0.96 24.01,-0.79 23.28,-0.79 22.94,-0.57 22.77,-0.23 22.77,0.23 22.94,0.57 23.28,0.79 27.40,0.79 27.74,0.57 27.91,0.23 27.91,-0.23 27.74,-0.57 27.63,-0.68 27.40,-0.79 26.67,-0.79 26.55,-0.85 26.39,-1.07 26.39,-9.77 26.27,-10.00ZM3.33,-10.28 3.16,-10.17 3.05,-10.17 1.81,-9.72 1.13,-9.04 0.57,-7.91 0.57,-7.01 0.68,-6.78 1.36,-6.10 1.58,-5.99 2.49,-5.99 2.71,-6.10 3.39,-6.78 3.50,-7.01 3.50,-7.91 3.39,-8.14 3.11,-8.42 3.22,-8.53 3.33,-8.53 3.73,-8.70 4.75,-8.70 5.14,-8.53 5.37,-8.31 5.54,-7.91 5.54,-7.01 5.37,-6.61 5.14,-6.38 4.75,-6.21 3.84,-6.21 3.62,-6.10 3.39,-5.88 3.28,-5.65 3.28,-5.20 3.39,-4.97 3.62,-4.75 3.84,-4.63 4.75,-4.63 5.37,-4.35 5.65,-4.07 5.65,-3.96 5.99,-3.05 5.99,-1.92 5.93,-1.86 5.71,-1.07 5.37,-0.85 5.25,-0.85 5.20,-0.79 3.73,-0.79 3.67,-0.85 3.22,-0.96 3.11,-1.07 3.39,-1.36 3.50,-1.58 3.50,-2.49 3.39,-2.71 2.71,-3.39 2.49,-3.50 1.58,-3.50 1.36,-3.39 0.68,-2.71 0.57,-2.49 0.57,-1.58 1.13,-0.45 1.81,0.23 2.03,0.34 3.16,0.68 3.33,0.79 5.71,0.79 5.88,0.68 5.99,0.68 7.23,0.23 7.91,-0.45 8.47,-1.58 8.47,-3.39 8.42,-3.45 8.42,-3.56 8.31,-3.67 7.91,-4.52 7.23,-5.20 7.57,-5.59 7.57,-5.71 8.02,-6.55 8.02,-8.36 7.46,-9.49 7.23,-9.72 7.01,-9.83 5.88,-10.17 5.71,-10.28Z" fill="#00f000" fill-rule="evenodd"/>
</g></svg>
</body></html>
